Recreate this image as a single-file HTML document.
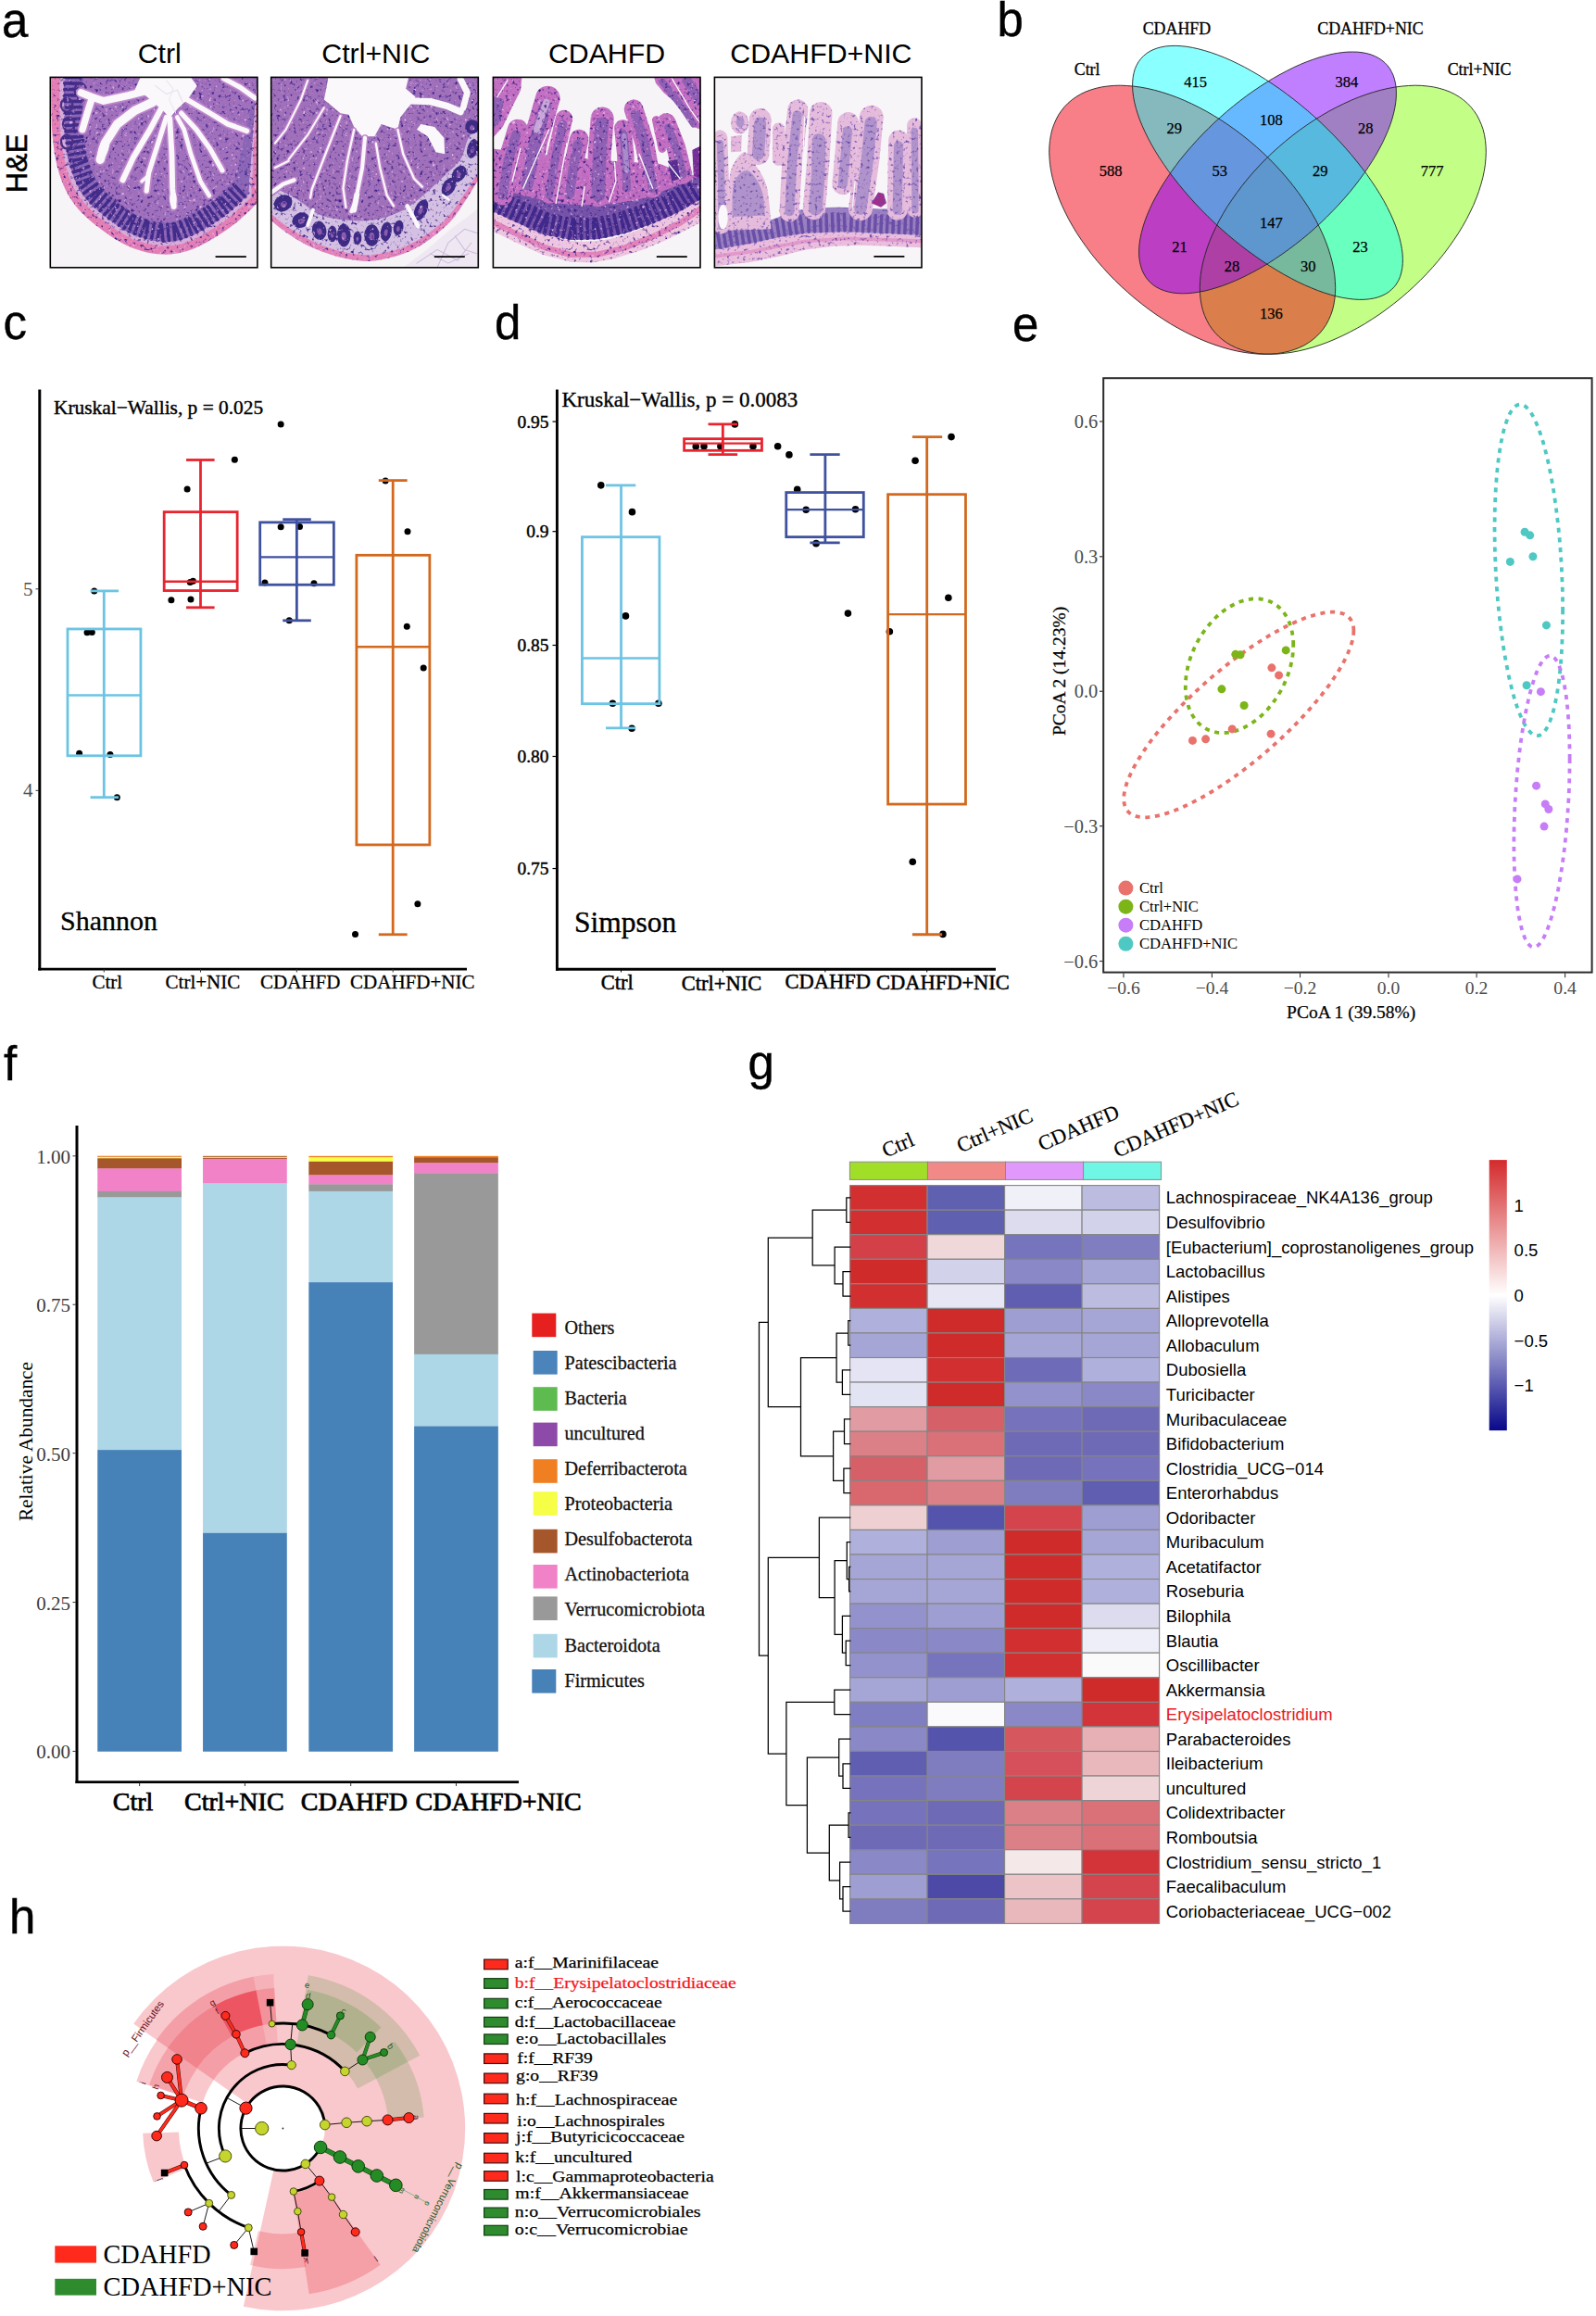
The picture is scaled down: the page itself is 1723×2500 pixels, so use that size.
<!DOCTYPE html>
<html lang="en"><head><meta charset="utf-8"><title>Figure</title>
<style>html,body{margin:0;padding:0;background:#fff}svg{display:block}text{font-family:"Liberation Serif",serif}text.sa{font-family:"Liberation Sans",sans-serif}</style></head>
<body>
<svg width="1723" height="2500" viewBox="0 0 1723 2500">
<rect width="1723" height="2500" fill="#fff"/>
<g id='pa'>
<text x="2.00" y="39.60" font-size="51" fill="#000" class="sa" stroke="#000" stroke-width="0.4">a</text>
<text x="172.30" y="68.30" font-size="30.3" fill="#000" class="sa" text-anchor="middle">Ctrl</text>
<text x="405.80" y="68.30" font-size="30.3" fill="#000" class="sa" text-anchor="middle">Ctrl+NIC</text>
<text x="655.00" y="68.30" font-size="30.3" fill="#000" class="sa" text-anchor="middle">CDAHFD</text>
<text x="886.40" y="68.30" font-size="30.3" fill="#000" class="sa" text-anchor="middle">CDAHFD+NIC</text>
<text x="29.00" y="176.50" font-size="30.9" fill="#000" class="sa" text-anchor="middle" transform="rotate(-90.00 29.00 176.50)" stroke="#000" stroke-width="0.5">H&amp;E</text>
<defs><clipPath id="clA"><rect x="28" y="38" width="1524" height="1395"/></clipPath><filter id="spk" filterUnits="userSpaceOnUse" x="0" y="0" width="1600" height="1500" color-interpolation-filters="sRGB"><feTurbulence type="fractalNoise" baseFrequency="0.042" numOctaves="2" seed="7" result="n"/><feColorMatrix in="n" type="matrix" values="0 0 0 0 0.24  0 0 0 0 0.13  0 0 0 0 0.54  4.5 0 0 0 -2.58" result="d"/><feComposite in="d" in2="SourceGraphic" operator="in" result="dd"/><feColorMatrix in="n" type="matrix" values="0 0 0 0 0.90  0 0 0 0 0.72  0 0 0 0 0.92  0 -5 0 0 1.75" result="l"/><feComposite in="l" in2="SourceGraphic" operator="in" result="ll"/><feMerge><feMergeNode in="SourceGraphic"/><feMergeNode in="dd"/><feMergeNode in="ll"/></feMerge></filter><filter id="spk2" filterUnits="userSpaceOnUse" x="0" y="0" width="1600" height="1500" color-interpolation-filters="sRGB"><feTurbulence type="fractalNoise" baseFrequency="0.042" numOctaves="2" seed="11" result="n"/><feColorMatrix in="n" type="matrix" values="0 0 0 0 0.42  0 0 0 0 0.30  0 0 0 0 0.68  4 0 0 0 -2.3" result="d"/><feComposite in="d" in2="SourceGraphic" operator="in" result="dd"/><feMerge><feMergeNode in="SourceGraphic"/><feMergeNode in="dd"/></feMerge></filter></defs>
<g transform="translate(50,78) scale(0.147243)">
<g clip-path="url(#clA)">
<rect x="28" y="38" width="1518" height="1395" fill="#F6F4F6"/>
<g filter="url(#spk)">
<path d="M35,38 C36,82 36,223 38,300 C40,377 41,433 48,500 C55,567 65,637 82,700 C99,763 122,827 150,880 C178,933 208,975 250,1020 C292,1065 350,1112 400,1150 C450,1188 500,1223 550,1250 C600,1277 650,1296 700,1310 C750,1324 800,1333 850,1335 C900,1337 950,1332 1000,1320 C1050,1308 1100,1285 1150,1260 C1200,1235 1255,1200 1300,1170 C1345,1140 1379,1115 1420,1080 C1461,1045 1525,980 1546,960 L1546,38Z" fill="#E47FB6" />
<path d="M97,38 C98,81 98,222 100,298 C102,374 103,429 110,493 C117,557 126,624 142,684 C158,744 180,802 205,851 C230,900 256,936 295,978 C334,1020 391,1065 438,1101 C485,1137 532,1170 579,1195 C626,1220 672,1237 717,1250 C762,1263 807,1271 852,1273 C897,1275 940,1271 985,1260 C1030,1249 1075,1229 1122,1205 C1169,1181 1223,1147 1266,1118 C1309,1089 1340,1067 1380,1033 C1420,999 1482,935 1503,915 L1546,38Z" fill="#D6ACD8" />
<path d="M127,38 C128,81 128,222 130,297 C132,372 132,427 139,490 C146,553 156,618 171,676 C186,734 206,790 231,837 C256,884 280,917 318,957 C356,997 410,1042 456,1077 C502,1112 548,1145 593,1169 C638,1193 682,1209 725,1221 C768,1233 811,1241 853,1243 C895,1245 935,1242 978,1231 C1021,1220 1064,1201 1109,1178 C1154,1155 1207,1121 1249,1093 C1291,1065 1321,1043 1360,1010 C1399,977 1462,912 1483,893 L1546,38Z" fill="#8C66B6" />
<path d="M270,38 C270,80 271,220 273,293 C275,366 276,416 282,474 C288,532 296,590 309,639 C322,688 339,734 358,771 C377,808 391,828 422,860 C453,892 503,934 543,964 C583,994 624,1023 661,1043 C698,1063 731,1074 764,1084 C797,1094 828,1099 858,1100 C888,1101 912,1100 943,1092 C974,1084 1007,1070 1045,1050 C1083,1030 1133,999 1170,974 C1207,949 1231,932 1267,901 C1303,870 1364,808 1384,790 L1546,38Z" fill="#A070BC" />
<path d="M133,38L252,37M134,82L253,81M134,126L253,125M135,170L254,169M135,214L254,213M136,258L255,257M136,302L255,296M138,346L257,340M140,390L259,384M142,434L261,428M144,478L263,472M150,520L268,500M158,564L275,543M165,607L282,587M173,650L290,630M183,692L295,650M199,733L310,691M214,774L326,733M229,815L341,774M249,852L346,782M275,888L372,818M301,924L397,854M327,957L405,867M360,986L439,896M394,1015L472,925M427,1044L505,954M459,1072L526,973M496,1097L562,998M533,1121L599,1022M569,1146L635,1047M606,1167L649,1057M646,1184L690,1073M687,1200L731,1089M727,1215L747,1098M771,1223L791,1105M814,1230L834,1113M856,1237L844,1118M900,1233L888,1114M943,1228L932,1110M985,1222L940,1111M1026,1205L981,1095M1066,1189L1022,1078M1106,1173L1045,1071M1144,1150L1082,1048M1182,1127L1120,1025M1219,1104L1157,1002M1256,1081L1184,985M1291,1054L1220,959M1326,1028L1255,933M1360,1001L1278,915M1392,971L1310,885M1424,941L1342,855M1456,910L1374,824" fill="none" stroke="#432D8A" stroke-width="24" stroke-linecap="round"/>
<ellipse cx="150" cy="240" rx="42" ry="50" fill="none" stroke="#4A2F86" stroke-width="16"/>
<ellipse cx="165" cy="380" rx="42" ry="50" fill="none" stroke="#4A2F86" stroke-width="16"/>
<ellipse cx="150" cy="510" rx="42" ry="50" fill="none" stroke="#4A2F86" stroke-width="16"/>
<ellipse cx="250" cy="130" rx="42" ry="50" fill="none" stroke="#4A2F86" stroke-width="16"/>
</g>
<path d="M760,130 L600,170 L420,210 L330,180 L255,150" fill="none" stroke="#BE86CC" stroke-width="78" stroke-linecap="round" stroke-linejoin="round" />
<path d="M335,190 L300,300 L265,420" fill="none" stroke="#BE86CC" stroke-width="74" stroke-linecap="round" stroke-linejoin="round" />
<path d="M780,220 L650,280 L520,380 L430,520 L395,640" fill="none" stroke="#BE86CC" stroke-width="88" stroke-linecap="round" stroke-linejoin="round" />
<path d="M840,270 L760,420 L640,620 L560,790" fill="none" stroke="#BE86CC" stroke-width="66" stroke-linecap="round" stroke-linejoin="round" />
<path d="M880,330 L820,520 L750,740 L735,870" fill="none" stroke="#BE86CC" stroke-width="60" stroke-linecap="round" stroke-linejoin="round" />
<path d="M745,760 L700,800" fill="none" stroke="#BE86CC" stroke-width="48" stroke-linecap="round" stroke-linejoin="round" />
<path d="M905,340 L920,600 L925,850 L935,985" fill="none" stroke="#BE86CC" stroke-width="64" stroke-linecap="round" stroke-linejoin="round" />
<path d="M960,330 L1010,420 L1060,600 L1130,800 L1195,905" fill="none" stroke="#BE86CC" stroke-width="56" stroke-linecap="round" stroke-linejoin="round" />
<path d="M990,300 L1100,420 L1200,560 L1290,720" fill="none" stroke="#BE86CC" stroke-width="60" stroke-linecap="round" stroke-linejoin="round" />
<path d="M1030,200 L1200,300 L1330,380 L1470,430" fill="none" stroke="#BE86CC" stroke-width="62" stroke-linecap="round" stroke-linejoin="round" />
<path d="M1300,45 L1420,110 L1530,190" fill="none" stroke="#BE86CC" stroke-width="60" stroke-linecap="round" stroke-linejoin="round" />
<path d="M690,38 L1060,38 L1105,100 L1035,200 L965,265 L905,335 L860,285 L800,235 L720,165 L640,150Z" fill="#FAF8FA" />
<path d="M760,130 L600,170 L420,210 L330,180 L255,150" fill="none" stroke="#FAF8FA" stroke-width="54" stroke-linecap="round" stroke-linejoin="round" />
<path d="M335,190 L300,300 L265,420" fill="none" stroke="#FAF8FA" stroke-width="50" stroke-linecap="round" stroke-linejoin="round" />
<path d="M780,220 L650,280 L520,380 L430,520 L395,640" fill="none" stroke="#FAF8FA" stroke-width="64" stroke-linecap="round" stroke-linejoin="round" />
<path d="M840,270 L760,420 L640,620 L560,790" fill="none" stroke="#FAF8FA" stroke-width="42" stroke-linecap="round" stroke-linejoin="round" />
<path d="M880,330 L820,520 L750,740 L735,870" fill="none" stroke="#FAF8FA" stroke-width="36" stroke-linecap="round" stroke-linejoin="round" />
<path d="M745,760 L700,800" fill="none" stroke="#FAF8FA" stroke-width="24" stroke-linecap="round" stroke-linejoin="round" />
<path d="M905,340 L920,600 L925,850 L935,985" fill="none" stroke="#FAF8FA" stroke-width="40" stroke-linecap="round" stroke-linejoin="round" />
<path d="M960,330 L1010,420 L1060,600 L1130,800 L1195,905" fill="none" stroke="#FAF8FA" stroke-width="32" stroke-linecap="round" stroke-linejoin="round" />
<path d="M990,300 L1100,420 L1200,560 L1290,720" fill="none" stroke="#FAF8FA" stroke-width="36" stroke-linecap="round" stroke-linejoin="round" />
<path d="M1030,200 L1200,300 L1330,380 L1470,430" fill="none" stroke="#FAF8FA" stroke-width="38" stroke-linecap="round" stroke-linejoin="round" />
<path d="M1300,45 L1420,110 L1530,190" fill="none" stroke="#FAF8FA" stroke-width="36" stroke-linecap="round" stroke-linejoin="round" />
<ellipse cx="420" cy="560" rx="36" ry="90" transform="rotate(18 420 560)" fill="#FAF8FA"/>
<ellipse cx="930" cy="930" rx="26" ry="60" fill="#FAF8FA"/>
<path d="M800,100 L880,160 L960,130 L1000,220" fill="none" stroke="#E9E3F0" stroke-width="9" stroke-linecap="round" stroke-linejoin="round" />
<path d="M880,60 L930,120 L900,200 L950,300" fill="none" stroke="#EBE6F2" stroke-width="7" stroke-linecap="round" stroke-linejoin="round" />
</g>
<path d="M1240,1352H1466" stroke="#000" stroke-width="12"/>
</g>
<g transform="translate(288,78) scale(0.147243)">
<g clip-path="url(#clA)">
<rect x="28" y="38" width="1525" height="1395" fill="#F6F4F6"/>
<path d="M1000,1432 L1150,1320 L1350,1150 L1550,1000 L1550,1432Z" fill="#EFE8F2" />
<path d="M1100,1400 L1250,1300 L1400,1380 L1500,1250" fill="none" stroke="#CDBBDD" stroke-width="7" stroke-linecap="round" stroke-linejoin="round" />
<path d="M1250,1432 L1330,1250 L1450,1150 L1545,1180" fill="none" stroke="#CDBBDD" stroke-width="7" stroke-linecap="round" stroke-linejoin="round" />
<path d="M1200,1330 L1330,1400 L1480,1330" fill="none" stroke="#CDBBDD" stroke-width="7" stroke-linecap="round" stroke-linejoin="round" />
<path d="M1380,1200 L1450,1300 L1540,1330" fill="none" stroke="#CDBBDD" stroke-width="7" stroke-linecap="round" stroke-linejoin="round" />
<g filter="url(#spk)">
<path d="M28,1085 C48,1101 105,1149 150,1180 C195,1211 250,1245 300,1270 C350,1295 400,1313 450,1330 C500,1347 550,1361 600,1370 C650,1379 700,1387 750,1385 C800,1383 850,1372 900,1360 C950,1348 1000,1333 1050,1310 C1100,1287 1150,1257 1200,1220 C1250,1183 1308,1135 1350,1090 C1392,1045 1416,1000 1450,950 C1484,900 1535,817 1552,790 L1552,38 L28,38Z" fill="#E483BA" />
<path d="M28,1035 C48,1051 105,1099 150,1130 C195,1161 250,1194 300,1220 C350,1246 400,1268 450,1285 C500,1302 550,1316 600,1325 C650,1334 700,1342 750,1340 C800,1338 850,1328 900,1315 C950,1302 1000,1284 1050,1260 C1100,1236 1152,1206 1200,1170 C1248,1134 1300,1089 1340,1045 C1380,1001 1405,957 1440,905 C1475,853 1533,763 1552,735 L1552,38 L28,38Z" fill="#D3C0E2" />
<path d="M28,850 C45,855 93,863 130,880 C167,897 205,922 250,950 C295,978 342,1028 400,1050 C458,1072 533,1080 600,1085 C667,1090 733,1092 800,1080 C867,1068 942,1040 1000,1010 C1058,980 1100,942 1150,900 C1200,858 1255,803 1300,760 C1345,717 1390,687 1420,640 C1450,593 1458,517 1480,480 C1502,443 1540,430 1552,420 L1552,38 L28,38Z" fill="#A070BA" />
<path d="M540,320 L430,600 L330,860 L320,920" fill="none" stroke="#A970C0" stroke-width="40" stroke-linecap="round" stroke-linejoin="round" />
<path d="M640,420 L590,650 L560,850 L580,990" fill="none" stroke="#A970C0" stroke-width="40" stroke-linecap="round" stroke-linejoin="round" />
<path d="M720,480 L700,700 L650,950 L620,1020" fill="none" stroke="#A970C0" stroke-width="52" stroke-linecap="round" stroke-linejoin="round" />
<path d="M800,520 L830,700 L880,900 L930,980" fill="none" stroke="#A970C0" stroke-width="40" stroke-linecap="round" stroke-linejoin="round" />
<path d="M960,420 L1000,600 L1080,780 L1140,840" fill="none" stroke="#A970C0" stroke-width="40" stroke-linecap="round" stroke-linejoin="round" />
<path d="M35,880 L120,820 L200,790" fill="none" stroke="#A970C0" stroke-width="54" stroke-linecap="round" stroke-linejoin="round" />
<path d="M60,700 L160,650" fill="none" stroke="#A970C0" stroke-width="40" stroke-linecap="round" stroke-linejoin="round" />
<path d="M300,60 L250,200 L140,420 L60,520" fill="none" stroke="#A970C0" stroke-width="38" stroke-linecap="round" stroke-linejoin="round" />
<path d="M420,260 L300,460 L160,640" fill="none" stroke="#A970C0" stroke-width="38" stroke-linecap="round" stroke-linejoin="round" />
<ellipse cx="120" cy="960" rx="70" ry="58" transform="rotate(-30 120 960)" fill="#3D2B84"/>
<ellipse cx="120" cy="968" rx="24" ry="20" transform="rotate(-30 120 960)" fill="#8A5AAE"/>
<ellipse cx="250" cy="1085" rx="66" ry="54" transform="rotate(-25 250 1085)" fill="#3D2B84"/>
<ellipse cx="250" cy="1093" rx="23" ry="19" transform="rotate(-25 250 1085)" fill="#8A5AAE"/>
<ellipse cx="385" cy="1160" rx="52" ry="70" transform="rotate(-10 385 1160)" fill="#3D2B84"/>
<ellipse cx="385" cy="1168" rx="18" ry="24" transform="rotate(-10 385 1160)" fill="#8A5AAE"/>
<ellipse cx="480" cy="1185" rx="34" ry="60" transform="rotate(0 480 1185)" fill="#3D2B84"/>
<ellipse cx="480" cy="1193" rx="12" ry="21" transform="rotate(0 480 1185)" fill="#8A5AAE"/>
<ellipse cx="565" cy="1195" rx="50" ry="85" transform="rotate(0 565 1195)" fill="#3D2B84"/>
<ellipse cx="565" cy="1203" rx="18" ry="30" transform="rotate(0 565 1195)" fill="#8A5AAE"/>
<ellipse cx="665" cy="1215" rx="30" ry="50" transform="rotate(0 665 1215)" fill="#3D2B84"/>
<ellipse cx="665" cy="1223" rx="10" ry="18" transform="rotate(0 665 1215)" fill="#8A5AAE"/>
<ellipse cx="770" cy="1195" rx="55" ry="80" transform="rotate(0 770 1195)" fill="#3D2B84"/>
<ellipse cx="770" cy="1203" rx="19" ry="28" transform="rotate(0 770 1195)" fill="#8A5AAE"/>
<ellipse cx="875" cy="1168" rx="40" ry="72" transform="rotate(8 875 1168)" fill="#3D2B84"/>
<ellipse cx="875" cy="1176" rx="14" ry="25" transform="rotate(8 875 1168)" fill="#8A5AAE"/>
<ellipse cx="965" cy="1140" rx="36" ry="56" transform="rotate(12 965 1140)" fill="#3D2B84"/>
<ellipse cx="965" cy="1148" rx="13" ry="20" transform="rotate(12 965 1140)" fill="#8A5AAE"/>
<ellipse cx="1130" cy="1010" rx="45" ry="82" transform="rotate(25 1130 1010)" fill="#3D2B84"/>
<ellipse cx="1130" cy="1018" rx="16" ry="29" transform="rotate(25 1130 1010)" fill="#8A5AAE"/>
<ellipse cx="1335" cy="840" rx="46" ry="72" transform="rotate(30 1335 840)" fill="#3D2B84"/>
<ellipse cx="1335" cy="848" rx="16" ry="25" transform="rotate(30 1335 840)" fill="#8A5AAE"/>
<ellipse cx="1410" cy="745" rx="46" ry="66" transform="rotate(35 1410 745)" fill="#3D2B84"/>
<ellipse cx="1410" cy="753" rx="16" ry="23" transform="rotate(35 1410 745)" fill="#8A5AAE"/>
<ellipse cx="1510" cy="560" rx="40" ry="72" transform="rotate(15 1510 560)" fill="#3D2B84"/>
<ellipse cx="1510" cy="568" rx="14" ry="25" transform="rotate(15 1510 560)" fill="#8A5AAE"/>
<ellipse cx="1505" cy="400" rx="50" ry="52" transform="rotate(0 1505 400)" fill="#3D2B84"/>
<ellipse cx="1505" cy="408" rx="18" ry="18" transform="rotate(0 1505 400)" fill="#8A5AAE"/>
</g>
<path d="M450,38 L1040,38 L1020,120 L1090,180 L1060,230 L980,330 L960,420 L900,400 L840,380 L790,470 L700,470 L640,400 L600,310 L540,300 L480,250 L420,200 L440,100Z" fill="#FAF8FA" />
<path d="M1050,210 L1200,215 L1330,250 L1420,290" fill="none" stroke="#FAF8FA" stroke-width="50" stroke-linecap="round" stroke-linejoin="round" />
<path d="M1440,260 L1470,150 L1420,50" fill="none" stroke="#FAF8FA" stroke-width="46" stroke-linecap="round" stroke-linejoin="round" />
<path d="M1130,380 L1230,400 L1300,480 L1305,600 L1240,585 L1180,470 L1100,420Z" fill="#FAF8FA" />
<path d="M540,320 L430,600 L330,860 L320,920" fill="none" stroke="#BC84CA" stroke-width="34" stroke-linecap="round" stroke-linejoin="round" />
<path d="M640,420 L590,650 L560,850 L580,990" fill="none" stroke="#BC84CA" stroke-width="34" stroke-linecap="round" stroke-linejoin="round" />
<path d="M720,480 L700,700 L650,950 L620,1020" fill="none" stroke="#BC84CA" stroke-width="46" stroke-linecap="round" stroke-linejoin="round" />
<path d="M800,520 L830,700 L880,900 L930,980" fill="none" stroke="#BC84CA" stroke-width="34" stroke-linecap="round" stroke-linejoin="round" />
<path d="M960,420 L1000,600 L1080,780 L1140,840" fill="none" stroke="#BC84CA" stroke-width="34" stroke-linecap="round" stroke-linejoin="round" />
<path d="M35,880 L120,820 L200,790" fill="none" stroke="#BC84CA" stroke-width="48" stroke-linecap="round" stroke-linejoin="round" />
<path d="M60,700 L160,650" fill="none" stroke="#BC84CA" stroke-width="34" stroke-linecap="round" stroke-linejoin="round" />
<path d="M300,60 L250,200 L140,420 L60,520" fill="none" stroke="#BC84CA" stroke-width="32" stroke-linecap="round" stroke-linejoin="round" />
<path d="M420,260 L300,460 L160,640" fill="none" stroke="#BC84CA" stroke-width="32" stroke-linecap="round" stroke-linejoin="round" />
<path d="M540,320 L430,600 L330,860 L320,920" fill="none" stroke="#FAF8FA" stroke-width="16" stroke-linecap="round" stroke-linejoin="round" />
<path d="M640,420 L590,650 L560,850 L580,990" fill="none" stroke="#FAF8FA" stroke-width="16" stroke-linecap="round" stroke-linejoin="round" />
<path d="M720,480 L700,700 L650,950 L620,1020" fill="none" stroke="#FAF8FA" stroke-width="28" stroke-linecap="round" stroke-linejoin="round" />
<path d="M800,520 L830,700 L880,900 L930,980" fill="none" stroke="#FAF8FA" stroke-width="16" stroke-linecap="round" stroke-linejoin="round" />
<path d="M960,420 L1000,600 L1080,780 L1140,840" fill="none" stroke="#FAF8FA" stroke-width="16" stroke-linecap="round" stroke-linejoin="round" />
<path d="M35,880 L120,820 L200,790" fill="none" stroke="#FAF8FA" stroke-width="30" stroke-linecap="round" stroke-linejoin="round" />
<path d="M60,700 L160,650" fill="none" stroke="#FAF8FA" stroke-width="16" stroke-linecap="round" stroke-linejoin="round" />
<path d="M300,60 L250,200 L140,420 L60,520" fill="none" stroke="#FAF8FA" stroke-width="14" stroke-linecap="round" stroke-linejoin="round" />
<path d="M420,260 L300,460 L160,640" fill="none" stroke="#FAF8FA" stroke-width="14" stroke-linecap="round" stroke-linejoin="round" />
<path d="M340,1010 L300,1120" fill="none" stroke="#FAF8FA" stroke-width="26" stroke-linecap="round" stroke-linejoin="round" />
<path d="M1030,980 L1110,1130" fill="none" stroke="#FAF8FA" stroke-width="30" stroke-linecap="round" stroke-linejoin="round" />
<path d="M1290,900 L1335,935" fill="none" stroke="#FAF8FA" stroke-width="16" stroke-linecap="round" stroke-linejoin="round" />
<path d="M660,900 L640,1010" fill="none" stroke="#FAF8FA" stroke-width="40" stroke-linecap="round" stroke-linejoin="round" />
</g>
<path d="M1228,1352H1452" stroke="#000" stroke-width="12"/>
</g>
<g transform="translate(528,78) scale(0.147243)">
<g clip-path="url(#clA)">
<rect x="28" y="38" width="1525" height="1395" fill="#F6F4F6"/>
<g filter="url(#spk)">
<path d="M28,1000 C57,1014 138,1055 200,1085 C262,1115 333,1155 400,1180 C467,1205 533,1226 600,1235 C667,1244 733,1242 800,1235 C867,1228 933,1211 1000,1190 C1067,1169 1133,1139 1200,1110 C1267,1081 1341,1048 1400,1015 C1459,982 1527,932 1552,915 L1552,1100 L1300,1230 L1100,1310 L900,1370 L750,1395 L600,1390 L400,1340 L200,1250 L28,1165Z" fill="#EFC6E0" />
<path d="M28,1100 L200,1185 L400,1282 L600,1338 L800,1335 L1000,1285 L1200,1205 L1400,1105 L1552,1000" fill="none" stroke="#E283BC" stroke-width="42" stroke-linecap="round" stroke-linejoin="round" />
<path d="M28,560 L300,600 L600,620 L900,650 L1250,670 L1450,750 L1552,760 L1552,900 L1300,960 L1000,1010 L600,1030 L300,980 L28,920Z" fill="#C06CC0" />
<path d="M28,850 C65,858 171,882 250,900 C329,918 408,948 500,960 C592,972 700,975 800,970 C900,965 1017,948 1100,930 C1183,912 1225,888 1300,860 C1375,832 1510,777 1552,760 L1552,930 L1400,1020 L1200,1110 L1000,1180 L800,1225 L600,1230 L400,1190 L200,1100 L28,1020Z" fill="#7653A8" />
<path d="M32,1011L91,884M74,1030L133,903M116,1050L175,923M157,1069L216,942M199,1089L258,962M241,1107L298,980M283,1126L340,999M325,1145L382,1018M367,1164L424,1036M407,1181L434,1044M452,1190L479,1053M497,1199L525,1062M542,1208L570,1071M587,1217L615,1080M631,1219L627,1079M677,1218L673,1078M723,1217L719,1077M769,1216L765,1076M812,1212L782,1075M857,1202L827,1065M902,1192L871,1055M947,1182L916,1045M992,1172L961,1035M1034,1157L988,1025M1078,1142L1032,1010M1121,1127L1075,995M1165,1112L1118,980M1207,1096L1149,968M1249,1077L1191,949M1291,1058L1233,931M1333,1039L1275,912M1375,1020L1317,893M1414,1000L1343,879M1454,976L1383,856M1494,953L1422,832M1533,929L1462,809" fill="none" stroke="#40298A" stroke-width="26" stroke-linecap="round"/>
<path d="M28,38 L240,38 L232,130 L172,250 L100,400 L28,480Z" fill="#C470C2" />
<path d="M28,180 L110,200 L80,360 L28,420Z" fill="#9060B4" />
<path d="M1210,38 L1552,38 L1552,420 L1500,400 L1400,250 L1280,150 L1222,80Z" fill="#C470C2" />
<path d="M1270,70 L1420,260 L1500,380" fill="none" stroke="#9060B4" stroke-width="50" stroke-linecap="round" stroke-linejoin="round" />
<path d="M1450,60 L1540,200" fill="none" stroke="#9060B4" stroke-width="70" stroke-linecap="round" stroke-linejoin="round" />
<path d="M100,900 L140,650 L210,420" fill="none" stroke="#C470C2" stroke-width="150" stroke-linecap="round" stroke-linejoin="round" />
<path d="M100,900 L140,650 L198,458" fill="none" stroke="#9060B4" stroke-width="70" stroke-linecap="round" stroke-linejoin="round" />
<path d="M280,820 L340,500 L430,190" fill="none" stroke="#C470C2" stroke-width="180" stroke-linecap="round" stroke-linejoin="round" />
<path d="M280,820 L340,500 L413,248" fill="none" stroke="#9060B4" stroke-width="90" stroke-linecap="round" stroke-linejoin="round" />
<path d="M440,900 L490,600 L550,340" fill="none" stroke="#C470C2" stroke-width="125" stroke-linecap="round" stroke-linejoin="round" />
<path d="M440,900 L490,600 L541,379" fill="none" stroke="#9060B4" stroke-width="60" stroke-linecap="round" stroke-linejoin="round" />
<path d="M590,900 L620,680 L660,490" fill="none" stroke="#C470C2" stroke-width="140" stroke-linecap="round" stroke-linejoin="round" />
<path d="M590,900 L620,680 L652,529" fill="none" stroke="#9060B4" stroke-width="70" stroke-linecap="round" stroke-linejoin="round" />
<path d="M800,900 L810,600 L830,340" fill="none" stroke="#C470C2" stroke-width="170" stroke-linecap="round" stroke-linejoin="round" />
<path d="M800,900 L810,600 L827,380" fill="none" stroke="#9060B4" stroke-width="100" stroke-linecap="round" stroke-linejoin="round" />
<path d="M1010,850 L1000,600 L980,410" fill="none" stroke="#C470C2" stroke-width="125" stroke-linecap="round" stroke-linejoin="round" />
<path d="M1010,850 L1000,600 L984,450" fill="none" stroke="#9060B4" stroke-width="60" stroke-linecap="round" stroke-linejoin="round" />
<path d="M1200,850 L1140,520 L1060,270" fill="none" stroke="#C470C2" stroke-width="140" stroke-linecap="round" stroke-linejoin="round" />
<path d="M1200,850 L1140,520 L1072,308" fill="none" stroke="#9060B4" stroke-width="70" stroke-linecap="round" stroke-linejoin="round" />
<path d="M1270,560 L1225,350" fill="none" stroke="#C56CC0" stroke-width="60" stroke-linecap="round" stroke-linejoin="round" />
<path d="M1420,750 L1370,550 L1300,370" fill="none" stroke="#C470C2" stroke-width="140" stroke-linecap="round" stroke-linejoin="round" />
<path d="M1420,750 L1370,550 L1314,407" fill="none" stroke="#9060B4" stroke-width="60" stroke-linecap="round" stroke-linejoin="round" />
<path d="M1490,570 L1552,540 L1552,780 L1500,760Z" fill="#7A2F98" />
<path d="M1310,650 L1380,640 L1400,780 L1340,800Z" fill="#5A2E90" />
<path d="M350,420 L420,220" fill="none" stroke="#C9A6D8" stroke-width="50" stroke-linecap="round" stroke-linejoin="round" />
<path d="M1010,720 L990,470" fill="none" stroke="#A98ACB" stroke-width="36" stroke-linecap="round" stroke-linejoin="round" />
</g>
<path d="M230,560 L170,800" fill="none" stroke="#FAF8FA" stroke-width="9" stroke-linecap="round" stroke-linejoin="round" />
<path d="M440,420 L350,620 L250,850" fill="none" stroke="#FAF8FA" stroke-width="9" stroke-linecap="round" stroke-linejoin="round" />
<path d="M570,520 L490,960" fill="none" stroke="#FAF8FA" stroke-width="9" stroke-linecap="round" stroke-linejoin="round" />
<path d="M700,840 L680,980" fill="none" stroke="#FAF8FA" stroke-width="9" stroke-linecap="round" stroke-linejoin="round" />
<path d="M920,660 L930,800 L880,950" fill="none" stroke="#FAF8FA" stroke-width="9" stroke-linecap="round" stroke-linejoin="round" />
<path d="M1100,600 L1200,850" fill="none" stroke="#FAF8FA" stroke-width="9" stroke-linecap="round" stroke-linejoin="round" />
<path d="M1290,640 L1400,780" fill="none" stroke="#FAF8FA" stroke-width="9" stroke-linecap="round" stroke-linejoin="round" />
<path d="M135,60 L60,180" fill="none" stroke="#FAF8FA" stroke-width="9" stroke-linecap="round" stroke-linejoin="round" />
<path d="M1340,45 L1480,280 L1552,380" fill="none" stroke="#FAF8FA" stroke-width="9" stroke-linecap="round" stroke-linejoin="round" />
</g>
<path d="M1228,1352H1452" stroke="#000" stroke-width="12"/>
</g>
<g transform="translate(767,78) scale(0.147243)">
<g clip-path="url(#clA)">
<rect x="28" y="38" width="1525" height="1395" fill="#F7F5F7"/>
<g filter="url(#spk2)">
<path d="M28,1290 C73,1283 221,1263 300,1250 C379,1237 433,1222 500,1210 C567,1198 617,1187 700,1180 C783,1173 900,1169 1000,1170 C1100,1171 1209,1181 1300,1185 C1391,1189 1505,1193 1546,1195 L1546,1285 L1300,1275 L1100,1268 L900,1275 L700,1300 L500,1350 L300,1390 L28,1422Z" fill="#EBBEDD" />
<path d="M28,1350 L300,1315 L500,1275 L700,1238 L1000,1218 L1300,1228 L1546,1238" fill="none" stroke="#E39ACB" stroke-width="26" stroke-linecap="round" stroke-linejoin="round" />
<path d="M28,1130 C57,1128 130,1128 200,1120 C270,1112 383,1097 450,1080 C517,1063 525,1035 600,1020 C675,1005 800,993 900,990 C1000,987 1092,997 1200,1000 C1308,1003 1488,1008 1546,1010 L1546,1195 L1000,1170 L700,1180 L500,1210 L300,1255 L28,1300Z" fill="#9A80C2" />
<path d="M26,1290L7,1172M70,1283L50,1165M113,1276L94,1157M157,1269L137,1150M200,1261L180,1143M243,1254L224,1136M287,1247L267,1129M329,1238L303,1121M372,1228L346,1111M415,1219L389,1102M458,1209L432,1092M502,1200L484,1081M545,1193L527,1074M589,1187L571,1068M632,1180L615,1061M676,1174L658,1055M721,1169L717,1049M765,1168L761,1048M809,1166L805,1046M853,1165L849,1045M897,1163L893,1044M941,1162L937,1042M985,1161L981,1041M1029,1161L1035,1041M1073,1163L1079,1043M1117,1165L1123,1045M1161,1167L1167,1047M1205,1169L1211,1050M1249,1171L1255,1052M1293,1173L1299,1054M1337,1175L1342,1056M1381,1177L1386,1058M1425,1179L1430,1060M1469,1181L1474,1062M1513,1183L1518,1064" fill="none" stroke="#6A4FA6" stroke-width="24" stroke-linecap="round"/>
<path d="M80,1130 L80,800 L70,480" fill="none" stroke="#E6BCDD" stroke-width="110" stroke-linecap="round" stroke-linejoin="round" />
<path d="M80,1130 L80,800 L71,520" fill="none" stroke="#B193CC" stroke-width="50" stroke-linecap="round" stroke-linejoin="round" />
<ellipse cx="215" cy="370" rx="66" ry="82" fill="#E6BCDD"/>
<ellipse cx="218" cy="365" rx="30" ry="42" fill="#B193CC"/>
<path d="M150,470 L230,460 L225,580 L150,585Z" fill="#E6B9DC" />
<path d="M350,600 L360,450 L365,345" fill="none" stroke="#E6BCDD" stroke-width="160" stroke-linecap="round" stroke-linejoin="round" />
<path d="M350,600 L360,450 L364,375" fill="none" stroke="#B193CC" stroke-width="90" stroke-linecap="round" stroke-linejoin="round" />
<path d="M500,640 L500,415" fill="none" stroke="#E6BBDD" stroke-width="90" stroke-linecap="round" stroke-linejoin="round" />
<path d="M130,1160 C131,1108 130,928 135,850 C140,772 141,734 160,690 C179,646 222,587 250,585 C278,583 305,644 330,680 C355,716 383,755 400,800 C417,845 422,892 430,950 C438,1008 442,1117 445,1150Z" fill="#E6BCDD" />
<path d="M160,1060 C161,1027 158,910 165,860 C172,810 182,783 200,760 C218,737 247,715 270,720 C293,725 321,760 340,790 C359,820 375,857 385,900 C395,943 398,1025 400,1050Z" fill="#B193CC" />
<path d="M580,1020 L600,650 L640,275" fill="none" stroke="#E6BCDD" stroke-width="150" stroke-linecap="round" stroke-linejoin="round" />
<path d="M580,1020 L600,650 L636,315" fill="none" stroke="#B193CC" stroke-width="70" stroke-linecap="round" stroke-linejoin="round" />
<path d="M760,1000 L790,650 L810,300" fill="none" stroke="#E6BCDD" stroke-width="165" stroke-linecap="round" stroke-linejoin="round" />
<path d="M770,1000 L790,750 L795,500" fill="none" stroke="#B193CC" stroke-width="100" stroke-linecap="round" stroke-linejoin="round" />
<path d="M970,820 L990,600 L1010,370" fill="none" stroke="#E6BCDD" stroke-width="155" stroke-linecap="round" stroke-linejoin="round" />
<path d="M970,820 L990,600 L1005,430" fill="none" stroke="#B193CC" stroke-width="70" stroke-linecap="round" stroke-linejoin="round" />
<path d="M1100,1000 L1150,650 L1180,330" fill="none" stroke="#E6BCDD" stroke-width="175" stroke-linecap="round" stroke-linejoin="round" />
<path d="M1100,1000 L1150,650 L1176,370" fill="none" stroke="#B193CC" stroke-width="90" stroke-linecap="round" stroke-linejoin="round" />
<path d="M1370,1010 L1375,750 L1380,500" fill="none" stroke="#E6BCDD" stroke-width="150" stroke-linecap="round" stroke-linejoin="round" />
<path d="M1370,1010 L1375,750 L1379,540" fill="none" stroke="#B193CC" stroke-width="70" stroke-linecap="round" stroke-linejoin="round" />
<path d="M1500,1010 L1500,700 L1495,390" fill="none" stroke="#E6BCDD" stroke-width="110" stroke-linecap="round" stroke-linejoin="round" />
<path d="M1500,1010 L1500,700 L1496,430" fill="none" stroke="#B193CC" stroke-width="50" stroke-linecap="round" stroke-linejoin="round" />
<path d="M1180,960 L1230,880 L1270,890 L1290,960 L1250,990Z" fill="#9E2F8C" />
</g>
<ellipse cx="92" cy="1060" rx="36" ry="90" fill="#FAF8FA"/>
<path d="M690,330 L675,700 L655,1000" fill="none" stroke="#FAF8FA" stroke-width="7" stroke-linecap="round" stroke-linejoin="round" />
<path d="M1060,800 L1040,1000" fill="none" stroke="#FAF8FA" stroke-width="7" stroke-linecap="round" stroke-linejoin="round" />
</g>
<path d="M1198,1350H1422" stroke="#000" stroke-width="12"/>
</g>
<rect x="54.30" y="83.40" width="223.60" height="205.40" fill="none" stroke="#000" stroke-width="1.6" />
<rect x="292.70" y="83.40" width="223.60" height="205.40" fill="none" stroke="#000" stroke-width="1.6" />
<rect x="532.40" y="83.40" width="223.60" height="205.40" fill="none" stroke="#000" stroke-width="1.6" />
<rect x="771.40" y="83.40" width="223.60" height="205.40" fill="none" stroke="#000" stroke-width="1.6" />
</g>
<g id='pb'>
<text x="1076.50" y="38.50" font-size="51" fill="#000" class="sa" stroke="#000" stroke-width="0.4">b</text>
<path d="M1583.9,111.3L1579.7,107.7L1575.2,104.5L1570.3,101.6L1565.1,99.1L1559.5,97.0L1553.7,95.3L1547.6,93.9L1541.2,93.0L1534.5,92.4L1527.6,92.2L1520.6,92.5L1513.3,93.1L1505.8,94.1L1498.2,95.5L1490.5,97.3L1482.6,99.5L1474.6,102.1L1466.6,105.0L1458.6,108.3L1450.5,112.0L1442.4,116.0L1434.3,120.3L1426.3,125.0L1418.4,129.9L1410.5,135.2L1402.7,140.7L1395.1,146.5L1387.6,152.5L1380.3,158.8L1373.1,165.3L1366.2,172.0L1359.5,178.9L1353.1,185.9L1346.9,193.1L1341.0,200.4L1335.5,207.7L1330.2,215.2L1325.2,222.7L1320.6,230.3L1316.3,237.9L1312.5,245.5L1308.9,253.1L1305.8,260.6L1303.1,268.0L1300.8,275.4L1298.8,282.7L1297.3,289.8L1296.2,296.8L1295.6,303.7L1295.3,310.3L1295.5,316.8L1296.1,323.0L1297.1,329.0L1298.5,334.8L1300.4,340.3L1302.7,345.5L1305.3,350.4L1308.4,355.0L1311.8,359.2L1315.7,363.2L1319.9,366.8L1324.4,370.0L1329.3,372.9L1334.5,375.4L1340.1,377.5L1345.9,379.3L1352.0,380.6L1358.4,381.6L1365.1,382.1L1372.0,382.3L1379.0,382.1L1386.3,381.4L1393.8,380.4L1401.4,379.0L1409.2,377.2L1417.0,375.0L1425.0,372.4L1433.0,369.5L1441.0,366.2L1449.1,362.5L1457.2,358.5L1465.3,354.2L1473.3,349.6L1481.2,344.6L1489.1,339.4L1496.9,333.8L1504.5,328.0L1512.0,322.0L1519.3,315.7L1526.5,309.2L1533.4,302.5L1540.1,295.7L1546.5,288.6L1552.7,281.5L1558.6,274.2L1564.1,266.8L1569.4,259.3L1574.4,251.8L1579.0,244.2L1583.3,236.6L1587.1,229.0L1590.7,221.5L1593.8,213.9L1596.5,206.5L1598.8,199.1L1600.8,191.8L1602.3,184.7L1603.4,177.7L1604.0,170.8L1604.3,164.2L1604.1,157.7L1603.5,151.5L1602.5,145.5L1601.1,139.7L1599.2,134.3L1596.9,129.1L1594.3,124.1L1591.2,119.6L1587.8,115.3Z" fill="#7FFF00" fill-opacity="0.47" stroke="none"/>
<path d="M1153.1,111.3L1149.2,115.3L1145.8,119.6L1142.7,124.1L1140.1,129.1L1137.8,134.3L1135.9,139.7L1134.5,145.5L1133.5,151.5L1132.9,157.7L1132.7,164.2L1133.0,170.8L1133.6,177.7L1134.7,184.7L1136.2,191.8L1138.2,199.1L1140.5,206.5L1143.2,213.9L1146.3,221.5L1149.9,229.0L1153.7,236.6L1158.0,244.2L1162.6,251.8L1167.6,259.3L1172.9,266.8L1178.4,274.2L1184.3,281.5L1190.5,288.6L1196.9,295.7L1203.6,302.5L1210.5,309.2L1217.7,315.7L1225.0,322.0L1232.5,328.0L1240.1,333.8L1247.9,339.4L1255.8,344.6L1263.7,349.6L1271.7,354.2L1279.8,358.5L1287.9,362.5L1296.0,366.2L1304.0,369.5L1312.0,372.4L1320.0,375.0L1327.8,377.2L1335.6,379.0L1343.2,380.4L1350.7,381.4L1358.0,382.1L1365.0,382.3L1371.9,382.1L1378.6,381.6L1385.0,380.6L1391.1,379.3L1396.9,377.5L1402.5,375.4L1407.7,372.9L1412.6,370.0L1417.1,366.8L1421.3,363.2L1425.2,359.2L1428.6,355.0L1431.7,350.4L1434.3,345.5L1436.6,340.3L1438.5,334.8L1439.9,329.0L1440.9,323.0L1441.5,316.8L1441.7,310.3L1441.4,303.7L1440.8,296.8L1439.7,289.8L1438.2,282.7L1436.2,275.4L1433.9,268.0L1431.2,260.6L1428.1,253.1L1424.5,245.5L1420.7,237.9L1416.4,230.3L1411.8,222.7L1406.8,215.2L1401.5,207.7L1396.0,200.4L1390.1,193.1L1383.9,185.9L1377.5,178.9L1370.8,172.0L1363.9,165.3L1356.7,158.8L1349.4,152.5L1341.9,146.5L1334.3,140.7L1326.5,135.2L1318.6,129.9L1310.7,125.0L1302.7,120.3L1294.6,116.0L1286.5,112.0L1278.4,108.3L1270.4,105.0L1262.4,102.1L1254.4,99.5L1246.5,97.3L1238.8,95.5L1231.2,94.1L1223.7,93.1L1216.4,92.5L1209.4,92.2L1202.5,92.4L1195.8,93.0L1189.4,93.9L1183.3,95.3L1177.5,97.0L1171.9,99.1L1166.7,101.6L1161.8,104.5L1157.3,107.7Z" fill="#F2000F" fill-opacity="0.5" stroke="none"/>
<path d="M1495.0,67.7L1491.8,65.0L1488.3,62.7L1484.4,60.7L1480.3,59.0L1475.8,57.7L1471.0,56.8L1466.0,56.2L1460.7,56.0L1455.1,56.1L1449.3,56.6L1443.3,57.4L1437.0,58.6L1430.6,60.2L1424.0,62.0L1417.3,64.3L1410.4,66.8L1403.4,69.7L1396.3,72.9L1389.2,76.5L1382.0,80.3L1374.7,84.4L1367.4,88.8L1360.2,93.5L1352.9,98.4L1345.7,103.5L1338.6,108.9L1331.5,114.5L1324.5,120.3L1317.7,126.3L1311.0,132.4L1304.5,138.7L1298.1,145.1L1291.9,151.7L1286.0,158.3L1280.2,165.0L1274.7,171.7L1269.5,178.5L1264.5,185.4L1259.9,192.2L1255.5,199.0L1251.4,205.8L1247.7,212.5L1244.2,219.2L1241.2,225.7L1238.4,232.2L1236.0,238.5L1234.0,244.7L1232.4,250.7L1231.1,256.6L1230.2,262.2L1229.7,267.7L1229.6,272.9L1229.8,277.9L1230.5,282.6L1231.5,287.1L1232.8,291.3L1234.6,295.2L1236.7,298.8L1239.2,302.1L1242.0,305.1L1245.2,307.8L1248.7,310.1L1252.6,312.1L1256.7,313.7L1261.2,315.0L1266.0,316.0L1271.0,316.6L1276.3,316.8L1281.9,316.7L1287.7,316.2L1293.7,315.3L1300.0,314.2L1306.4,312.6L1313.0,310.7L1319.7,308.5L1326.6,305.9L1333.6,303.0L1340.7,299.8L1347.8,296.3L1355.0,292.5L1362.3,288.4L1369.6,284.0L1376.8,279.3L1384.1,274.4L1391.3,269.2L1398.4,263.9L1405.5,258.3L1412.5,252.5L1419.3,246.5L1426.0,240.4L1432.5,234.1L1438.9,227.6L1445.1,221.1L1451.0,214.5L1456.8,207.8L1462.3,201.0L1467.5,194.2L1472.5,187.4L1477.1,180.6L1481.5,173.8L1485.6,167.0L1489.3,160.3L1492.8,153.6L1495.8,147.0L1498.6,140.6L1501.0,134.3L1503.0,128.1L1504.6,122.1L1505.9,116.2L1506.8,110.5L1507.3,105.1L1507.4,99.9L1507.2,94.9L1506.5,90.1L1505.5,85.7L1504.2,81.5L1502.4,77.6L1500.3,73.9L1497.8,70.6Z" fill="#7F00FF" fill-opacity="0.5" stroke="none"/>
<path d="M1234.4,60.5L1231.5,63.5L1229.1,66.8L1227.0,70.5L1225.3,74.4L1224.1,78.7L1223.2,83.3L1222.7,88.2L1222.6,93.3L1222.9,98.7L1223.6,104.3L1224.7,110.2L1226.2,116.2L1228.1,122.5L1230.3,128.9L1233.0,135.5L1236.0,142.2L1239.4,149.1L1243.1,156.0L1247.2,163.1L1251.6,170.2L1256.4,177.3L1261.4,184.5L1266.8,191.6L1272.4,198.8L1278.3,205.9L1284.4,213.0L1290.7,220.0L1297.3,226.9L1304.1,233.7L1311.0,240.4L1318.1,246.9L1325.3,253.2L1332.7,259.4L1340.2,265.4L1347.7,271.1L1355.3,276.6L1362.9,281.9L1370.5,286.9L1378.2,291.6L1385.8,296.1L1393.3,300.2L1400.8,304.1L1408.2,307.6L1415.5,310.7L1422.7,313.6L1429.7,316.1L1436.6,318.2L1443.2,320.0L1449.7,321.4L1455.9,322.4L1461.9,323.1L1467.7,323.4L1473.1,323.3L1478.3,322.8L1483.2,322.0L1487.8,320.8L1492.0,319.2L1495.9,317.3L1499.4,315.0L1502.6,312.3L1505.5,309.3L1507.9,306.0L1510.0,302.3L1511.7,298.3L1512.9,294.0L1513.8,289.5L1514.3,284.6L1514.4,279.5L1514.1,274.1L1513.4,268.5L1512.3,262.6L1510.8,256.5L1508.9,250.3L1506.7,243.9L1504.0,237.3L1501.0,230.5L1497.6,223.7L1493.9,216.7L1489.8,209.7L1485.4,202.6L1480.6,195.5L1475.6,188.3L1470.2,181.1L1464.6,174.0L1458.7,166.8L1452.6,159.8L1446.3,152.8L1439.7,145.9L1432.9,139.1L1426.0,132.4L1418.9,125.9L1411.7,119.6L1404.3,113.4L1396.8,107.4L1389.3,101.7L1381.7,96.1L1374.1,90.9L1366.5,85.9L1358.8,81.1L1351.2,76.7L1343.7,72.5L1336.2,68.7L1328.8,65.2L1321.5,62.0L1314.3,59.2L1307.3,56.7L1300.4,54.6L1293.8,52.8L1287.3,51.4L1281.1,50.3L1275.1,49.7L1269.3,49.4L1263.9,49.5L1258.7,49.9L1253.8,50.8L1249.2,52.0L1245.0,53.6L1241.1,55.5L1237.6,57.8Z" fill="#00FFFF" fill-opacity="0.46" stroke="none"/>
<path d="M1583.9,111.3L1579.7,107.7L1575.2,104.5L1570.3,101.6L1565.1,99.1L1559.5,97.0L1553.7,95.3L1547.6,93.9L1541.2,93.0L1534.5,92.4L1527.6,92.2L1520.6,92.5L1513.3,93.1L1505.8,94.1L1498.2,95.5L1490.5,97.3L1482.6,99.5L1474.6,102.1L1466.6,105.0L1458.6,108.3L1450.5,112.0L1442.4,116.0L1434.3,120.3L1426.3,125.0L1418.4,129.9L1410.5,135.2L1402.7,140.7L1395.1,146.5L1387.6,152.5L1380.3,158.8L1373.1,165.3L1366.2,172.0L1359.5,178.9L1353.1,185.9L1346.9,193.1L1341.0,200.4L1335.5,207.7L1330.2,215.2L1325.2,222.7L1320.6,230.3L1316.3,237.9L1312.5,245.5L1308.9,253.1L1305.8,260.6L1303.1,268.0L1300.8,275.4L1298.8,282.7L1297.3,289.8L1296.2,296.8L1295.6,303.7L1295.3,310.3L1295.5,316.8L1296.1,323.0L1297.1,329.0L1298.5,334.8L1300.4,340.3L1302.7,345.5L1305.3,350.4L1308.4,355.0L1311.8,359.2L1315.7,363.2L1319.9,366.8L1324.4,370.0L1329.3,372.9L1334.5,375.4L1340.1,377.5L1345.9,379.3L1352.0,380.6L1358.4,381.6L1365.1,382.1L1372.0,382.3L1379.0,382.1L1386.3,381.4L1393.8,380.4L1401.4,379.0L1409.2,377.2L1417.0,375.0L1425.0,372.4L1433.0,369.5L1441.0,366.2L1449.1,362.5L1457.2,358.5L1465.3,354.2L1473.3,349.6L1481.2,344.6L1489.1,339.4L1496.9,333.8L1504.5,328.0L1512.0,322.0L1519.3,315.7L1526.5,309.2L1533.4,302.5L1540.1,295.7L1546.5,288.6L1552.7,281.5L1558.6,274.2L1564.1,266.8L1569.4,259.3L1574.4,251.8L1579.0,244.2L1583.3,236.6L1587.1,229.0L1590.7,221.5L1593.8,213.9L1596.5,206.5L1598.8,199.1L1600.8,191.8L1602.3,184.7L1603.4,177.7L1604.0,170.8L1604.3,164.2L1604.1,157.7L1603.5,151.5L1602.5,145.5L1601.1,139.7L1599.2,134.3L1596.9,129.1L1594.3,124.1L1591.2,119.6L1587.8,115.3Z" fill="none" stroke="#222" stroke-width="0.9"/>
<path d="M1153.1,111.3L1149.2,115.3L1145.8,119.6L1142.7,124.1L1140.1,129.1L1137.8,134.3L1135.9,139.7L1134.5,145.5L1133.5,151.5L1132.9,157.7L1132.7,164.2L1133.0,170.8L1133.6,177.7L1134.7,184.7L1136.2,191.8L1138.2,199.1L1140.5,206.5L1143.2,213.9L1146.3,221.5L1149.9,229.0L1153.7,236.6L1158.0,244.2L1162.6,251.8L1167.6,259.3L1172.9,266.8L1178.4,274.2L1184.3,281.5L1190.5,288.6L1196.9,295.7L1203.6,302.5L1210.5,309.2L1217.7,315.7L1225.0,322.0L1232.5,328.0L1240.1,333.8L1247.9,339.4L1255.8,344.6L1263.7,349.6L1271.7,354.2L1279.8,358.5L1287.9,362.5L1296.0,366.2L1304.0,369.5L1312.0,372.4L1320.0,375.0L1327.8,377.2L1335.6,379.0L1343.2,380.4L1350.7,381.4L1358.0,382.1L1365.0,382.3L1371.9,382.1L1378.6,381.6L1385.0,380.6L1391.1,379.3L1396.9,377.5L1402.5,375.4L1407.7,372.9L1412.6,370.0L1417.1,366.8L1421.3,363.2L1425.2,359.2L1428.6,355.0L1431.7,350.4L1434.3,345.5L1436.6,340.3L1438.5,334.8L1439.9,329.0L1440.9,323.0L1441.5,316.8L1441.7,310.3L1441.4,303.7L1440.8,296.8L1439.7,289.8L1438.2,282.7L1436.2,275.4L1433.9,268.0L1431.2,260.6L1428.1,253.1L1424.5,245.5L1420.7,237.9L1416.4,230.3L1411.8,222.7L1406.8,215.2L1401.5,207.7L1396.0,200.4L1390.1,193.1L1383.9,185.9L1377.5,178.9L1370.8,172.0L1363.9,165.3L1356.7,158.8L1349.4,152.5L1341.9,146.5L1334.3,140.7L1326.5,135.2L1318.6,129.9L1310.7,125.0L1302.7,120.3L1294.6,116.0L1286.5,112.0L1278.4,108.3L1270.4,105.0L1262.4,102.1L1254.4,99.5L1246.5,97.3L1238.8,95.5L1231.2,94.1L1223.7,93.1L1216.4,92.5L1209.4,92.2L1202.5,92.4L1195.8,93.0L1189.4,93.9L1183.3,95.3L1177.5,97.0L1171.9,99.1L1166.7,101.6L1161.8,104.5L1157.3,107.7Z" fill="none" stroke="#222" stroke-width="0.9"/>
<path d="M1495.0,67.7L1491.8,65.0L1488.3,62.7L1484.4,60.7L1480.3,59.0L1475.8,57.7L1471.0,56.8L1466.0,56.2L1460.7,56.0L1455.1,56.1L1449.3,56.6L1443.3,57.4L1437.0,58.6L1430.6,60.2L1424.0,62.0L1417.3,64.3L1410.4,66.8L1403.4,69.7L1396.3,72.9L1389.2,76.5L1382.0,80.3L1374.7,84.4L1367.4,88.8L1360.2,93.5L1352.9,98.4L1345.7,103.5L1338.6,108.9L1331.5,114.5L1324.5,120.3L1317.7,126.3L1311.0,132.4L1304.5,138.7L1298.1,145.1L1291.9,151.7L1286.0,158.3L1280.2,165.0L1274.7,171.7L1269.5,178.5L1264.5,185.4L1259.9,192.2L1255.5,199.0L1251.4,205.8L1247.7,212.5L1244.2,219.2L1241.2,225.7L1238.4,232.2L1236.0,238.5L1234.0,244.7L1232.4,250.7L1231.1,256.6L1230.2,262.2L1229.7,267.7L1229.6,272.9L1229.8,277.9L1230.5,282.6L1231.5,287.1L1232.8,291.3L1234.6,295.2L1236.7,298.8L1239.2,302.1L1242.0,305.1L1245.2,307.8L1248.7,310.1L1252.6,312.1L1256.7,313.7L1261.2,315.0L1266.0,316.0L1271.0,316.6L1276.3,316.8L1281.9,316.7L1287.7,316.2L1293.7,315.3L1300.0,314.2L1306.4,312.6L1313.0,310.7L1319.7,308.5L1326.6,305.9L1333.6,303.0L1340.7,299.8L1347.8,296.3L1355.0,292.5L1362.3,288.4L1369.6,284.0L1376.8,279.3L1384.1,274.4L1391.3,269.2L1398.4,263.9L1405.5,258.3L1412.5,252.5L1419.3,246.5L1426.0,240.4L1432.5,234.1L1438.9,227.6L1445.1,221.1L1451.0,214.5L1456.8,207.8L1462.3,201.0L1467.5,194.2L1472.5,187.4L1477.1,180.6L1481.5,173.8L1485.6,167.0L1489.3,160.3L1492.8,153.6L1495.8,147.0L1498.6,140.6L1501.0,134.3L1503.0,128.1L1504.6,122.1L1505.9,116.2L1506.8,110.5L1507.3,105.1L1507.4,99.9L1507.2,94.9L1506.5,90.1L1505.5,85.7L1504.2,81.5L1502.4,77.6L1500.3,73.9L1497.8,70.6Z" fill="none" stroke="#222" stroke-width="0.9"/>
<path d="M1234.4,60.5L1231.5,63.5L1229.1,66.8L1227.0,70.5L1225.3,74.4L1224.1,78.7L1223.2,83.3L1222.7,88.2L1222.6,93.3L1222.9,98.7L1223.6,104.3L1224.7,110.2L1226.2,116.2L1228.1,122.5L1230.3,128.9L1233.0,135.5L1236.0,142.2L1239.4,149.1L1243.1,156.0L1247.2,163.1L1251.6,170.2L1256.4,177.3L1261.4,184.5L1266.8,191.6L1272.4,198.8L1278.3,205.9L1284.4,213.0L1290.7,220.0L1297.3,226.9L1304.1,233.7L1311.0,240.4L1318.1,246.9L1325.3,253.2L1332.7,259.4L1340.2,265.4L1347.7,271.1L1355.3,276.6L1362.9,281.9L1370.5,286.9L1378.2,291.6L1385.8,296.1L1393.3,300.2L1400.8,304.1L1408.2,307.6L1415.5,310.7L1422.7,313.6L1429.7,316.1L1436.6,318.2L1443.2,320.0L1449.7,321.4L1455.9,322.4L1461.9,323.1L1467.7,323.4L1473.1,323.3L1478.3,322.8L1483.2,322.0L1487.8,320.8L1492.0,319.2L1495.9,317.3L1499.4,315.0L1502.6,312.3L1505.5,309.3L1507.9,306.0L1510.0,302.3L1511.7,298.3L1512.9,294.0L1513.8,289.5L1514.3,284.6L1514.4,279.5L1514.1,274.1L1513.4,268.5L1512.3,262.6L1510.8,256.5L1508.9,250.3L1506.7,243.9L1504.0,237.3L1501.0,230.5L1497.6,223.7L1493.9,216.7L1489.8,209.7L1485.4,202.6L1480.6,195.5L1475.6,188.3L1470.2,181.1L1464.6,174.0L1458.7,166.8L1452.6,159.8L1446.3,152.8L1439.7,145.9L1432.9,139.1L1426.0,132.4L1418.9,125.9L1411.7,119.6L1404.3,113.4L1396.8,107.4L1389.3,101.7L1381.7,96.1L1374.1,90.9L1366.5,85.9L1358.8,81.1L1351.2,76.7L1343.7,72.5L1336.2,68.7L1328.8,65.2L1321.5,62.0L1314.3,59.2L1307.3,56.7L1300.4,54.6L1293.8,52.8L1287.3,51.4L1281.1,50.3L1275.1,49.7L1269.3,49.4L1263.9,49.5L1258.7,49.9L1253.8,50.8L1249.2,52.0L1245.0,53.6L1241.1,55.5L1237.6,57.8Z" fill="none" stroke="#222" stroke-width="0.9"/>
<text x="1233.66" y="37.11" font-size="17.9" fill="#000" stroke="#000" stroke-width="0.3">CDAHFD</text>
<text x="1422.28" y="37.11" font-size="17.9" fill="#000" stroke="#000" stroke-width="0.3">CDAHFD+NIC</text>
<text x="1159.71" y="81.01" font-size="17.9" fill="#000" stroke="#000" stroke-width="0.3">Ctrl</text>
<text x="1562.70" y="81.01" font-size="17.9" fill="#000" stroke="#000" stroke-width="0.3">Ctrl+NIC</text>
<text x="1290.58" y="93.79" font-size="16.5" fill="#000" text-anchor="middle" stroke="#000" stroke-width="0.25">415</text>
<text x="1453.85" y="93.79" font-size="16.5" fill="#000" text-anchor="middle" stroke="#000" stroke-width="0.25">384</text>
<text x="1372.42" y="134.92" font-size="16.5" fill="#000" text-anchor="middle" stroke="#000" stroke-width="0.25">108</text>
<text x="1267.73" y="144.48" font-size="16.5" fill="#000" text-anchor="middle" stroke="#000" stroke-width="0.25">29</text>
<text x="1474.21" y="144.48" font-size="16.5" fill="#000" text-anchor="middle" stroke="#000" stroke-width="0.25">28</text>
<text x="1199.18" y="190.18" font-size="16.5" fill="#000" text-anchor="middle" stroke="#000" stroke-width="0.25">588</text>
<text x="1316.75" y="190.18" font-size="16.5" fill="#000" text-anchor="middle" stroke="#000" stroke-width="0.25">53</text>
<text x="1425.18" y="190.18" font-size="16.5" fill="#000" text-anchor="middle" stroke="#000" stroke-width="0.25">29</text>
<text x="1546.08" y="190.18" font-size="16.5" fill="#000" text-anchor="middle" stroke="#000" stroke-width="0.25">777</text>
<text x="1372.42" y="246.26" font-size="16.5" fill="#000" text-anchor="middle" stroke="#000" stroke-width="0.25">147</text>
<text x="1273.54" y="272.02" font-size="16.5" fill="#000" text-anchor="middle" stroke="#000" stroke-width="0.25">21</text>
<text x="1468.39" y="272.02" font-size="16.5" fill="#000" text-anchor="middle" stroke="#000" stroke-width="0.25">23</text>
<text x="1330.05" y="292.79" font-size="16.5" fill="#000" text-anchor="middle" stroke="#000" stroke-width="0.25">28</text>
<text x="1412.31" y="292.79" font-size="16.5" fill="#000" text-anchor="middle" stroke="#000" stroke-width="0.25">30</text>
<text x="1372.42" y="343.90" font-size="16.5" fill="#000" text-anchor="middle" stroke="#000" stroke-width="0.25">136</text>
</g>
<g id='pc'>
<text x="3.50" y="366.00" font-size="51" fill="#000" class="sa" stroke="#000" stroke-width="0.4">c</text>
<line x1="42.80" y1="420.50" x2="42.80" y2="1047.60" stroke="#000" stroke-width="3.0" />
<line x1="41.30" y1="1046.20" x2="504.00" y2="1046.20" stroke="#000" stroke-width="2.8" />
<text x="58.00" y="447.00" font-size="21.4" fill="#000" stroke="#000" stroke-width="0.4">Kruskal−Wallis, p = 0.025</text>
<text x="35.50" y="642.79" font-size="21" fill="#4d4d4d" text-anchor="end">5</text>
<text x="35.50" y="860.33" font-size="21" fill="#4d4d4d" text-anchor="end">4</text>
<line x1="38.50" y1="635.79" x2="42.00" y2="635.79" stroke="#333" stroke-width="1" />
<line x1="38.50" y1="853.33" x2="42.00" y2="853.33" stroke="#333" stroke-width="1" />
<circle cx="101.75" cy="637.89" r="3.50" fill="#000" />
<circle cx="94.04" cy="682.81" r="3.50" fill="#000" />
<circle cx="99.30" cy="682.46" r="3.50" fill="#000" />
<circle cx="85.61" cy="813.33" r="3.50" fill="#000" />
<circle cx="118.95" cy="814.39" r="3.50" fill="#000" />
<circle cx="126.32" cy="860.70" r="3.50" fill="#000" />
<circle cx="253.33" cy="496.14" r="3.50" fill="#000" />
<circle cx="202.11" cy="528.07" r="3.50" fill="#000" />
<circle cx="205.26" cy="628.42" r="3.50" fill="#000" />
<circle cx="208.42" cy="627.37" r="3.50" fill="#000" />
<circle cx="184.91" cy="647.72" r="3.50" fill="#000" />
<circle cx="205.96" cy="647.02" r="3.50" fill="#000" />
<circle cx="303.16" cy="457.89" r="3.50" fill="#000" />
<circle cx="303.16" cy="568.77" r="3.50" fill="#000" />
<circle cx="323.51" cy="568.42" r="3.50" fill="#000" />
<circle cx="285.96" cy="629.12" r="3.50" fill="#000" />
<circle cx="338.95" cy="629.82" r="3.50" fill="#000" />
<circle cx="312.28" cy="669.82" r="3.50" fill="#000" />
<circle cx="416.14" cy="518.95" r="3.50" fill="#000" />
<circle cx="440.00" cy="573.68" r="3.50" fill="#000" />
<circle cx="439.30" cy="676.14" r="3.50" fill="#000" />
<circle cx="457.19" cy="721.05" r="3.50" fill="#000" />
<circle cx="450.88" cy="975.79" r="3.50" fill="#000" />
<circle cx="383.51" cy="1008.42" r="3.50" fill="#000" />
<line x1="112.28" y1="637.89" x2="112.28" y2="860.70" stroke="#6CC4E4" stroke-width="2.8" />
<line x1="97.54" y1="637.89" x2="128.07" y2="637.89" stroke="#6CC4E4" stroke-width="2.8" />
<line x1="97.54" y1="860.70" x2="128.07" y2="860.70" stroke="#6CC4E4" stroke-width="2.8" />
<rect x="72.98" y="678.95" width="78.95" height="136.84" fill="none" stroke="#6CC4E4" stroke-width="2.8" />
<line x1="72.98" y1="750.53" x2="151.93" y2="750.53" stroke="#6CC4E4" stroke-width="2.38" />
<line x1="216.49" y1="496.49" x2="216.49" y2="655.79" stroke="#E8242F" stroke-width="2.8" />
<line x1="201.05" y1="496.49" x2="231.58" y2="496.49" stroke="#E8242F" stroke-width="2.8" />
<line x1="201.05" y1="655.79" x2="231.58" y2="655.79" stroke="#E8242F" stroke-width="2.8" />
<rect x="177.19" y="552.63" width="78.95" height="84.91" fill="none" stroke="#E8242F" stroke-width="2.8" />
<line x1="177.19" y1="627.72" x2="256.14" y2="627.72" stroke="#E8242F" stroke-width="2.38" />
<line x1="320.35" y1="560.70" x2="320.35" y2="669.82" stroke="#3F519F" stroke-width="2.8" />
<line x1="305.26" y1="560.70" x2="335.79" y2="560.70" stroke="#3F519F" stroke-width="2.8" />
<line x1="305.26" y1="669.82" x2="335.79" y2="669.82" stroke="#3F519F" stroke-width="2.8" />
<rect x="280.70" y="563.86" width="79.65" height="67.37" fill="none" stroke="#3F519F" stroke-width="2.8" />
<line x1="280.70" y1="601.40" x2="360.35" y2="601.40" stroke="#3F519F" stroke-width="2.38" />
<line x1="424.21" y1="518.60" x2="424.21" y2="1008.77" stroke="#D2691E" stroke-width="2.8" />
<line x1="408.77" y1="518.60" x2="439.65" y2="518.60" stroke="#D2691E" stroke-width="2.8" />
<line x1="408.77" y1="1008.77" x2="439.65" y2="1008.77" stroke="#D2691E" stroke-width="2.8" />
<rect x="384.91" y="599.30" width="78.95" height="312.63" fill="none" stroke="#D2691E" stroke-width="2.8" />
<line x1="384.91" y1="698.25" x2="463.86" y2="698.25" stroke="#D2691E" stroke-width="2.38" />
<text x="65.00" y="1003.50" font-size="30" fill="#000" stroke="#000" stroke-width="0.3">Shannon</text>
<text x="115.79" y="1066.60" font-size="21" fill="#000" text-anchor="middle" stroke="#000" stroke-width="0.3">Ctrl</text>
<text x="218.95" y="1066.60" font-size="21" fill="#000" text-anchor="middle" stroke="#000" stroke-width="0.3">Ctrl+NIC</text>
<text x="324.21" y="1066.60" font-size="21" fill="#000" text-anchor="middle" stroke="#000" stroke-width="0.3">CDAHFD</text>
<text x="445.26" y="1066.60" font-size="21" fill="#000" text-anchor="middle" stroke="#000" stroke-width="0.3">CDAHFD+NIC</text>
<line x1="112.28" y1="1046.00" x2="112.28" y2="1049.50" stroke="#333" stroke-width="1" />
<line x1="216.49" y1="1046.00" x2="216.49" y2="1049.50" stroke="#333" stroke-width="1" />
<line x1="320.35" y1="1046.00" x2="320.35" y2="1049.50" stroke="#333" stroke-width="1" />
<line x1="424.21" y1="1046.00" x2="424.21" y2="1049.50" stroke="#333" stroke-width="1" />
</g>
<g id='pd'>
<text x="534.00" y="366.00" font-size="51" fill="#000" class="sa" stroke="#000" stroke-width="0.4">d</text>
<line x1="601.40" y1="420.50" x2="601.40" y2="1047.70" stroke="#000" stroke-width="2.9" />
<line x1="600.00" y1="1046.30" x2="1075.00" y2="1046.30" stroke="#000" stroke-width="2.9" />
<text x="606.50" y="438.80" font-size="23" fill="#000" stroke="#000" stroke-width="0.35">Kruskal−Wallis, p = 0.0083</text>
<text x="592.50" y="461.69" font-size="19.5" fill="#000" text-anchor="end" stroke="#000" stroke-width="0.45">0.95</text>
<line x1="596.50" y1="455.09" x2="600.50" y2="455.09" stroke="#000" stroke-width="1.2" />
<text x="592.50" y="580.28" font-size="19.5" fill="#000" text-anchor="end" stroke="#000" stroke-width="0.45">0.9</text>
<line x1="596.50" y1="573.68" x2="600.50" y2="573.68" stroke="#000" stroke-width="1.2" />
<text x="592.50" y="703.09" font-size="19.5" fill="#000" text-anchor="end" stroke="#000" stroke-width="0.45">0.85</text>
<line x1="596.50" y1="696.49" x2="600.50" y2="696.49" stroke="#000" stroke-width="1.2" />
<text x="592.50" y="823.09" font-size="19.5" fill="#000" text-anchor="end" stroke="#000" stroke-width="0.45">0.80</text>
<line x1="596.50" y1="816.49" x2="600.50" y2="816.49" stroke="#000" stroke-width="1.2" />
<text x="592.50" y="944.14" font-size="19.5" fill="#000" text-anchor="end" stroke="#000" stroke-width="0.45">0.75</text>
<line x1="596.50" y1="937.54" x2="600.50" y2="937.54" stroke="#000" stroke-width="1.2" />
<circle cx="648.77" cy="523.86" r="3.80" fill="#000" />
<circle cx="682.46" cy="552.63" r="3.80" fill="#000" />
<circle cx="675.44" cy="664.91" r="3.80" fill="#000" />
<circle cx="661.40" cy="759.30" r="3.80" fill="#000" />
<circle cx="710.88" cy="759.30" r="3.80" fill="#000" />
<circle cx="682.11" cy="786.32" r="3.80" fill="#000" />
<circle cx="793.33" cy="457.89" r="3.80" fill="#000" />
<circle cx="751.23" cy="482.11" r="3.80" fill="#000" />
<circle cx="760.00" cy="481.75" r="3.80" fill="#000" />
<circle cx="777.89" cy="481.75" r="3.80" fill="#000" />
<circle cx="812.98" cy="481.75" r="3.80" fill="#000" />
<circle cx="839.65" cy="481.75" r="3.80" fill="#000" />
<circle cx="851.93" cy="490.88" r="3.80" fill="#000" />
<circle cx="860.70" cy="528.42" r="3.80" fill="#000" />
<circle cx="870.18" cy="550.18" r="3.80" fill="#000" />
<circle cx="923.51" cy="549.82" r="3.80" fill="#000" />
<circle cx="881.05" cy="586.67" r="3.80" fill="#000" />
<circle cx="915.44" cy="662.11" r="3.80" fill="#000" />
<circle cx="1027.02" cy="471.58" r="3.80" fill="#000" />
<circle cx="988.07" cy="497.19" r="3.80" fill="#000" />
<circle cx="1023.86" cy="645.26" r="3.80" fill="#000" />
<circle cx="960.35" cy="681.75" r="3.80" fill="#000" />
<circle cx="985.26" cy="930.18" r="3.80" fill="#000" />
<circle cx="1017.89" cy="1008.42" r="3.80" fill="#000" />
<line x1="670.53" y1="523.86" x2="670.53" y2="785.96" stroke="#6CC4E4" stroke-width="2.8" />
<line x1="654.04" y1="523.86" x2="686.32" y2="523.86" stroke="#6CC4E4" stroke-width="2.8" />
<line x1="654.04" y1="785.96" x2="686.32" y2="785.96" stroke="#6CC4E4" stroke-width="2.8" />
<rect x="628.42" y="579.65" width="83.51" height="180.00" fill="none" stroke="#6CC4E4" stroke-width="2.8" />
<line x1="628.42" y1="710.53" x2="711.93" y2="710.53" stroke="#6CC4E4" stroke-width="2.38" />
<line x1="780.35" y1="457.89" x2="780.35" y2="490.53" stroke="#E8242F" stroke-width="2.8" />
<line x1="764.56" y1="457.89" x2="796.14" y2="457.89" stroke="#E8242F" stroke-width="2.8" />
<line x1="764.56" y1="490.53" x2="796.14" y2="490.53" stroke="#E8242F" stroke-width="2.8" />
<rect x="738.60" y="473.68" width="83.86" height="12.63" fill="none" stroke="#E8242F" stroke-width="2.8" />
<line x1="738.60" y1="478.60" x2="822.46" y2="478.60" stroke="#E8242F" stroke-width="2.38" />
<line x1="890.88" y1="490.53" x2="890.88" y2="585.96" stroke="#3F519F" stroke-width="2.8" />
<line x1="874.39" y1="490.53" x2="906.67" y2="490.53" stroke="#3F519F" stroke-width="2.8" />
<line x1="874.39" y1="585.96" x2="906.67" y2="585.96" stroke="#3F519F" stroke-width="2.8" />
<rect x="848.77" y="531.58" width="83.51" height="48.07" fill="none" stroke="#3F519F" stroke-width="2.8" />
<line x1="848.77" y1="550.18" x2="932.28" y2="550.18" stroke="#3F519F" stroke-width="2.38" />
<line x1="1000.70" y1="471.58" x2="1000.70" y2="1008.77" stroke="#D2691E" stroke-width="2.8" />
<line x1="984.91" y1="471.58" x2="1017.19" y2="471.58" stroke="#D2691E" stroke-width="2.8" />
<line x1="984.91" y1="1008.77" x2="1017.19" y2="1008.77" stroke="#D2691E" stroke-width="2.8" />
<rect x="958.60" y="533.68" width="83.86" height="334.39" fill="none" stroke="#D2691E" stroke-width="2.8" />
<line x1="958.60" y1="663.16" x2="1042.46" y2="663.16" stroke="#D2691E" stroke-width="2.38" />
<text x="620.00" y="1005.80" font-size="31.5" fill="#000" stroke="#000" stroke-width="0.35">Simpson</text>
<text x="666.32" y="1067.60" font-size="22.5" fill="#000" text-anchor="middle" stroke="#000" stroke-width="0.5">Ctrl</text>
<text x="778.95" y="1068.60" font-size="22.5" fill="#000" text-anchor="middle" stroke="#000" stroke-width="0.5">Ctrl+NIC</text>
<text x="893.68" y="1067.10" font-size="22.5" fill="#000" text-anchor="middle" stroke="#000" stroke-width="0.5">CDAHFD</text>
<text x="1017.89" y="1067.60" font-size="22.5" fill="#000" text-anchor="middle" stroke="#000" stroke-width="0.5">CDAHFD+NIC</text>
<line x1="670.53" y1="1046.00" x2="670.53" y2="1049.50" stroke="#000" stroke-width="1" />
<line x1="780.35" y1="1046.00" x2="780.35" y2="1049.50" stroke="#000" stroke-width="1" />
<line x1="890.88" y1="1046.00" x2="890.88" y2="1049.50" stroke="#000" stroke-width="1" />
<line x1="1000.70" y1="1046.00" x2="1000.70" y2="1049.50" stroke="#000" stroke-width="1" />
</g>
<g id='pe'>
<text x="1093.00" y="367.50" font-size="51" fill="#000" class="sa" stroke="#000" stroke-width="0.4">e</text>
<rect x="1191.20" y="408.20" width="527.40" height="641.40" fill="none" stroke="#2b2b2b" stroke-width="2.0" />
<text x="1185.30" y="462.04" font-size="20.4" fill="#4a4a4a" text-anchor="end">0.6</text>
<line x1="1187.00" y1="454.94" x2="1190.40" y2="454.94" stroke="#333" stroke-width="1.2" />
<text x="1185.30" y="607.89" font-size="20.4" fill="#4a4a4a" text-anchor="end">0.3</text>
<line x1="1187.00" y1="600.79" x2="1190.40" y2="600.79" stroke="#333" stroke-width="1.2" />
<text x="1185.30" y="753.34" font-size="20.4" fill="#4a4a4a" text-anchor="end">0.0</text>
<line x1="1187.00" y1="746.24" x2="1190.40" y2="746.24" stroke="#333" stroke-width="1.2" />
<text x="1185.30" y="898.78" font-size="20.4" fill="#4a4a4a" text-anchor="end">−0.3</text>
<line x1="1187.00" y1="891.68" x2="1190.40" y2="891.68" stroke="#333" stroke-width="1.2" />
<text x="1185.30" y="1044.63" font-size="20.4" fill="#4a4a4a" text-anchor="end">−0.6</text>
<line x1="1187.00" y1="1037.53" x2="1190.40" y2="1037.53" stroke="#333" stroke-width="1.2" />
<text x="1212.96" y="1072.90" font-size="19.6" fill="#4a4a4a" text-anchor="middle">−0.6</text>
<line x1="1212.96" y1="1050.40" x2="1212.96" y2="1055.30" stroke="#333" stroke-width="1.1" />
<text x="1308.44" y="1072.90" font-size="19.6" fill="#4a4a4a" text-anchor="middle">−0.4</text>
<line x1="1308.44" y1="1050.40" x2="1308.44" y2="1055.30" stroke="#333" stroke-width="1.1" />
<text x="1403.53" y="1072.90" font-size="19.6" fill="#4a4a4a" text-anchor="middle">−0.2</text>
<line x1="1403.53" y1="1050.40" x2="1403.53" y2="1055.30" stroke="#333" stroke-width="1.1" />
<text x="1499.02" y="1072.90" font-size="19.6" fill="#4a4a4a" text-anchor="middle">0.0</text>
<line x1="1499.02" y1="1050.40" x2="1499.02" y2="1055.30" stroke="#333" stroke-width="1.1" />
<text x="1594.10" y="1072.90" font-size="19.6" fill="#4a4a4a" text-anchor="middle">0.2</text>
<line x1="1594.10" y1="1050.40" x2="1594.10" y2="1055.30" stroke="#333" stroke-width="1.1" />
<text x="1689.59" y="1072.90" font-size="19.6" fill="#4a4a4a" text-anchor="middle">0.4</text>
<line x1="1689.59" y1="1050.40" x2="1689.59" y2="1055.30" stroke="#333" stroke-width="1.1" />
<text x="1458.73" y="1098.80" font-size="19.5" fill="#000" text-anchor="middle" stroke="#000" stroke-width="0.25">PCoA 1 (39.58%)</text>
<text x="1150.50" y="724.48" font-size="19.5" fill="#000" text-anchor="middle" transform="rotate(-90.00 1150.50 724.48)" stroke="#000" stroke-width="0.25">PCoA 2 (14.23%)</text>
<path d="M1461.4,680.7L1461.3,678.3L1461.0,676.0L1460.5,673.9L1459.9,671.9L1459.0,670.1L1458.0,668.4L1456.7,666.9L1455.3,665.5L1453.7,664.4L1452.0,663.3L1450.0,662.5L1447.9,661.8L1445.6,661.3L1443.1,660.9L1440.5,660.7L1437.7,660.7L1434.8,660.9L1431.7,661.2L1428.4,661.7L1425.1,662.4L1421.5,663.2L1417.9,664.2L1414.1,665.4L1410.2,666.7L1406.2,668.2L1402.1,669.9L1397.9,671.7L1393.6,673.7L1389.3,675.8L1384.8,678.1L1380.3,680.5L1375.6,683.0L1371.0,685.7L1366.3,688.5L1361.5,691.5L1356.7,694.5L1351.9,697.7L1347.0,701.0L1342.2,704.4L1337.3,707.9L1332.4,711.6L1327.6,715.3L1322.7,719.1L1317.9,722.9L1313.1,726.9L1308.3,730.9L1303.6,735.0L1299.0,739.1L1294.3,743.3L1289.8,747.5L1285.3,751.8L1281.0,756.1L1276.7,760.4L1272.5,764.7L1268.4,769.1L1264.4,773.4L1260.5,777.8L1256.7,782.1L1253.1,786.4L1249.5,790.7L1246.2,795.0L1242.9,799.2L1239.8,803.4L1236.9,807.6L1234.1,811.7L1231.5,815.7L1229.0,819.6L1226.7,823.5L1224.6,827.3L1222.6,831.0L1220.9,834.7L1219.3,838.2L1217.9,841.6L1216.6,844.9L1215.6,848.1L1214.7,851.2L1214.1,854.2L1213.6,857.0L1213.3,859.7L1213.2,862.3L1213.3,864.7L1213.6,867.0L1214.1,869.1L1214.7,871.1L1215.6,872.9L1216.6,874.6L1217.9,876.1L1219.3,877.5L1220.9,878.6L1222.6,879.7L1224.6,880.5L1226.7,881.2L1229.0,881.7L1231.5,882.1L1234.1,882.3L1236.9,882.3L1239.8,882.1L1242.9,881.8L1246.2,881.3L1249.5,880.6L1253.1,879.8L1256.7,878.8L1260.5,877.6L1264.4,876.3L1268.4,874.8L1272.5,873.1L1276.7,871.3L1281.0,869.3L1285.3,867.2L1289.8,864.9L1294.3,862.5L1299.0,860.0L1303.6,857.3L1308.3,854.5L1313.1,851.5L1317.9,848.5L1322.7,845.3L1327.6,842.0L1332.4,838.6L1337.3,835.1L1342.2,831.4L1347.0,827.7L1351.9,823.9L1356.7,820.1L1361.5,816.1L1366.3,812.1L1371.0,808.0L1375.6,803.9L1380.3,799.7L1384.8,795.5L1389.3,791.2L1393.6,786.9L1397.9,782.6L1402.1,778.3L1406.2,773.9L1410.2,769.6L1414.1,765.2L1417.9,760.9L1421.5,756.6L1425.1,752.3L1428.4,748.0L1431.7,743.8L1434.8,739.6L1437.7,735.4L1440.5,731.3L1443.1,727.3L1445.6,723.4L1447.9,719.5L1450.0,715.7L1452.0,712.0L1453.7,708.3L1455.3,704.8L1456.7,701.4L1458.0,698.1L1459.0,694.9L1459.9,691.8L1460.5,688.8L1461.0,686.0L1461.3,683.3Z" fill="none" stroke="#E9726C" stroke-width="3.8" stroke-dasharray="5.1 5.6"/>
<path d="M1396.2,696.3L1396.2,693.6L1396.0,691.0L1395.8,688.4L1395.5,685.8L1395.1,683.3L1394.6,680.9L1394.0,678.5L1393.4,676.1L1392.6,673.9L1391.8,671.7L1390.9,669.6L1389.9,667.5L1388.8,665.5L1387.6,663.6L1386.4,661.8L1385.1,660.1L1383.7,658.5L1382.3,657.0L1380.7,655.5L1379.2,654.2L1377.5,653.0L1375.8,651.8L1374.0,650.8L1372.2,649.8L1370.3,649.0L1368.4,648.3L1366.4,647.7L1364.4,647.2L1362.4,646.8L1360.3,646.5L1358.1,646.4L1356.0,646.3L1353.8,646.4L1351.6,646.5L1349.4,646.8L1347.1,647.2L1344.8,647.7L1342.6,648.3L1340.3,649.0L1338.0,649.8L1335.7,650.8L1333.4,651.8L1331.2,653.0L1328.9,654.2L1326.6,655.5L1324.4,657.0L1322.2,658.5L1320.0,660.1L1317.9,661.8L1315.7,663.6L1313.6,665.5L1311.6,667.5L1309.6,669.6L1307.6,671.7L1305.7,673.9L1303.8,676.1L1302.0,678.5L1300.2,680.9L1298.5,683.3L1296.8,685.8L1295.3,688.4L1293.7,691.0L1292.3,693.6L1290.9,696.3L1289.6,699.0L1288.4,701.8L1287.2,704.6L1286.1,707.4L1285.1,710.2L1284.2,713.0L1283.4,715.9L1282.6,718.7L1282.0,721.5L1281.4,724.4L1280.9,727.2L1280.5,730.0L1280.2,732.8L1280.0,735.6L1279.8,738.4L1279.8,741.1L1279.8,743.8L1280.0,746.4L1280.2,749.0L1280.5,751.6L1280.9,754.1L1281.4,756.5L1282.0,758.9L1282.6,761.3L1283.4,763.5L1284.2,765.7L1285.1,767.8L1286.1,769.9L1287.2,771.9L1288.4,773.8L1289.6,775.6L1290.9,777.3L1292.3,778.9L1293.7,780.4L1295.3,781.9L1296.8,783.2L1298.5,784.4L1300.2,785.6L1302.0,786.6L1303.8,787.6L1305.7,788.4L1307.6,789.1L1309.6,789.7L1311.6,790.2L1313.6,790.6L1315.7,790.9L1317.9,791.0L1320.0,791.1L1322.2,791.0L1324.4,790.9L1326.6,790.6L1328.9,790.2L1331.2,789.7L1333.4,789.1L1335.7,788.4L1338.0,787.6L1340.3,786.6L1342.6,785.6L1344.8,784.4L1347.1,783.2L1349.4,781.9L1351.6,780.4L1353.8,778.9L1356.0,777.3L1358.1,775.6L1360.3,773.8L1362.4,771.9L1364.4,769.9L1366.4,767.8L1368.4,765.7L1370.3,763.5L1372.2,761.3L1374.0,758.9L1375.8,756.5L1377.5,754.1L1379.2,751.6L1380.7,749.0L1382.3,746.4L1383.7,743.8L1385.1,741.1L1386.4,738.4L1387.6,735.6L1388.8,732.8L1389.9,730.0L1390.9,727.2L1391.8,724.4L1392.6,721.5L1393.4,718.7L1394.0,715.9L1394.6,713.0L1395.1,710.2L1395.5,707.4L1395.8,704.6L1396.0,701.8L1396.2,699.0Z" fill="none" stroke="#7CB518" stroke-width="3.8" stroke-dasharray="5.1 5.6"/>
<path d="M1687.1,660.2L1687.1,653.3L1687.0,646.4L1686.9,639.5L1686.7,632.5L1686.4,625.5L1686.1,618.5L1685.8,611.5L1685.3,604.5L1684.9,597.5L1684.3,590.5L1683.8,583.6L1683.1,576.7L1682.5,569.9L1681.7,563.1L1680.9,556.5L1680.1,549.9L1679.2,543.4L1678.3,537.0L1677.4,530.8L1676.4,524.7L1675.3,518.7L1674.2,512.8L1673.1,507.2L1672.0,501.7L1670.8,496.3L1669.6,491.2L1668.3,486.2L1667.1,481.5L1665.8,476.9L1664.4,472.6L1663.1,468.5L1661.7,464.6L1660.3,460.9L1658.9,457.5L1657.5,454.4L1656.1,451.4L1654.7,448.8L1653.2,446.3L1651.8,444.2L1650.3,442.3L1648.9,440.7L1647.5,439.3L1646.0,438.2L1644.6,437.4L1643.2,436.9L1641.8,436.6L1640.4,436.6L1639.0,436.9L1637.6,437.5L1636.3,438.3L1634.9,439.5L1633.6,440.8L1632.4,442.5L1631.1,444.4L1629.9,446.6L1628.7,449.0L1627.6,451.7L1626.5,454.7L1625.4,457.9L1624.3,461.3L1623.3,465.0L1622.4,468.9L1621.5,473.1L1620.6,477.4L1619.8,482.0L1619.0,486.8L1618.2,491.8L1617.6,496.9L1616.9,502.3L1616.4,507.8L1615.8,513.5L1615.4,519.3L1614.9,525.3L1614.6,531.5L1614.3,537.7L1614.0,544.1L1613.8,550.6L1613.7,557.2L1613.6,563.9L1613.5,570.6L1613.6,577.5L1613.7,584.4L1613.8,591.3L1614.0,598.3L1614.3,605.3L1614.6,612.3L1614.9,619.3L1615.4,626.3L1615.8,633.3L1616.4,640.3L1616.9,647.2L1617.6,654.1L1618.2,660.9L1619.0,667.7L1619.8,674.3L1620.6,680.9L1621.5,687.4L1622.4,693.8L1623.3,700.0L1624.3,706.1L1625.4,712.1L1626.5,718.0L1627.6,723.6L1628.7,729.1L1629.9,734.5L1631.1,739.6L1632.4,744.6L1633.6,749.3L1634.9,753.9L1636.3,758.2L1637.6,762.3L1639.0,766.2L1640.4,769.9L1641.8,773.3L1643.2,776.4L1644.6,779.4L1646.0,782.0L1647.5,784.5L1648.9,786.6L1650.3,788.5L1651.8,790.1L1653.2,791.5L1654.7,792.6L1656.1,793.4L1657.5,793.9L1658.9,794.2L1660.3,794.2L1661.7,793.9L1663.1,793.3L1664.4,792.5L1665.8,791.3L1667.1,790.0L1668.3,788.3L1669.6,786.4L1670.8,784.2L1672.0,781.8L1673.1,779.1L1674.2,776.1L1675.3,772.9L1676.4,769.5L1677.4,765.8L1678.3,761.9L1679.2,757.7L1680.1,753.4L1680.9,748.8L1681.7,744.0L1682.5,739.0L1683.1,733.9L1683.8,728.5L1684.3,723.0L1684.9,717.3L1685.3,711.5L1685.8,705.5L1686.1,699.3L1686.4,693.1L1686.7,686.7L1686.9,680.2L1687.0,673.6L1687.1,666.9Z" fill="none" stroke="#4EC8C3" stroke-width="3.8" stroke-dasharray="5.1 5.6"/>
<path d="M1694.6,819.1L1694.6,813.2L1694.5,807.4L1694.4,801.7L1694.2,796.1L1694.0,790.6L1693.8,785.3L1693.5,780.0L1693.1,774.9L1692.7,769.9L1692.3,765.0L1691.8,760.4L1691.3,755.8L1690.8,751.5L1690.2,747.3L1689.5,743.3L1688.9,739.5L1688.1,735.9L1687.4,732.4L1686.6,729.2L1685.8,726.2L1684.9,723.4L1684.0,720.8L1683.1,718.5L1682.2,716.4L1681.2,714.5L1680.2,712.8L1679.2,711.4L1678.2,710.2L1677.1,709.2L1676.0,708.5L1674.9,708.1L1673.8,707.8L1672.7,707.8L1671.5,708.1L1670.4,708.6L1669.2,709.3L1668.0,710.3L1666.9,711.5L1665.7,713.0L1664.5,714.7L1663.3,716.6L1662.1,718.7L1661.0,721.1L1659.8,723.7L1658.6,726.5L1657.5,729.6L1656.3,732.8L1655.2,736.2L1654.1,739.9L1653.0,743.7L1651.9,747.7L1650.8,751.9L1649.8,756.3L1648.8,760.9L1647.8,765.6L1646.8,770.4L1645.9,775.4L1645.0,780.6L1644.1,785.9L1643.2,791.3L1642.4,796.8L1641.6,802.4L1640.9,808.1L1640.1,813.9L1639.5,819.8L1638.8,825.7L1638.2,831.7L1637.7,837.8L1637.2,843.9L1636.7,850.0L1636.3,856.2L1635.9,862.4L1635.5,868.5L1635.2,874.7L1635.0,880.9L1634.8,887.0L1634.6,893.1L1634.5,899.1L1634.4,905.1L1634.4,911.1L1634.4,917.0L1634.5,922.8L1634.6,928.5L1634.8,934.1L1635.0,939.6L1635.2,944.9L1635.5,950.2L1635.9,955.3L1636.3,960.3L1636.7,965.2L1637.2,969.8L1637.7,974.4L1638.2,978.7L1638.8,982.9L1639.5,986.9L1640.1,990.7L1640.9,994.3L1641.6,997.8L1642.4,1001.0L1643.2,1004.0L1644.1,1006.8L1645.0,1009.4L1645.9,1011.7L1646.8,1013.8L1647.8,1015.7L1648.8,1017.4L1649.8,1018.8L1650.8,1020.0L1651.9,1021.0L1653.0,1021.7L1654.1,1022.1L1655.2,1022.4L1656.3,1022.4L1657.5,1022.1L1658.6,1021.6L1659.8,1020.9L1661.0,1019.9L1662.1,1018.7L1663.3,1017.2L1664.5,1015.5L1665.7,1013.6L1666.9,1011.5L1668.0,1009.1L1669.2,1006.5L1670.4,1003.7L1671.5,1000.6L1672.7,997.4L1673.8,994.0L1674.9,990.3L1676.0,986.5L1677.1,982.5L1678.2,978.3L1679.2,973.9L1680.2,969.3L1681.2,964.6L1682.2,959.8L1683.1,954.8L1684.0,949.6L1684.9,944.3L1685.8,938.9L1686.6,933.4L1687.4,927.8L1688.1,922.1L1688.9,916.3L1689.5,910.4L1690.2,904.5L1690.8,898.5L1691.3,892.4L1691.8,886.3L1692.3,880.2L1692.7,874.0L1693.1,867.8L1693.5,861.7L1693.8,855.5L1694.0,849.3L1694.2,843.2L1694.4,837.1L1694.5,831.1L1694.6,825.1Z" fill="none" stroke="#C67DF7" stroke-width="3.8" stroke-dasharray="5.1 5.6"/>
<circle cx="1372.91" cy="720.85" r="4.50" fill="#E9726C" />
<circle cx="1380.56" cy="728.91" r="4.50" fill="#E9726C" />
<circle cx="1330.20" cy="786.93" r="4.50" fill="#E9726C" />
<circle cx="1372.10" cy="792.17" r="4.50" fill="#E9726C" />
<circle cx="1287.49" cy="799.42" r="4.50" fill="#E9726C" />
<circle cx="1301.60" cy="797.81" r="4.50" fill="#E9726C" />
<circle cx="1333.83" cy="706.35" r="4.50" fill="#7CB518" />
<circle cx="1339.07" cy="706.75" r="4.50" fill="#7CB518" />
<circle cx="1388.22" cy="701.92" r="4.50" fill="#7CB518" />
<circle cx="1318.92" cy="743.82" r="4.50" fill="#7CB518" />
<circle cx="1343.09" cy="761.55" r="4.50" fill="#7CB518" />
<circle cx="1646.08" cy="574.20" r="4.50" fill="#4EC8C3" />
<circle cx="1651.72" cy="577.82" r="4.50" fill="#4EC8C3" />
<circle cx="1654.94" cy="600.79" r="4.50" fill="#4EC8C3" />
<circle cx="1630.36" cy="606.43" r="4.50" fill="#4EC8C3" />
<circle cx="1669.44" cy="674.92" r="4.50" fill="#4EC8C3" />
<circle cx="1648.09" cy="739.79" r="4.50" fill="#4EC8C3" />
<circle cx="1663.40" cy="746.64" r="4.50" fill="#C67DF7" />
<circle cx="1658.57" cy="848.17" r="4.50" fill="#C67DF7" />
<circle cx="1668.24" cy="867.91" r="4.50" fill="#C67DF7" />
<circle cx="1671.86" cy="873.55" r="4.50" fill="#C67DF7" />
<circle cx="1667.03" cy="892.09" r="4.50" fill="#C67DF7" />
<circle cx="1638.02" cy="948.90" r="4.50" fill="#C67DF7" />
<circle cx="1215.40" cy="958.57" r="8.00" fill="#E9726C" />
<text x="1230.00" y="964.07" font-size="16.6" fill="#000">Ctrl</text>
<circle cx="1215.40" cy="978.63" r="8.00" fill="#7CB518" />
<text x="1230.00" y="984.13" font-size="16.6" fill="#000">Ctrl+NIC</text>
<circle cx="1215.40" cy="998.69" r="8.00" fill="#C67DF7" />
<text x="1230.00" y="1004.19" font-size="16.6" fill="#000">CDAHFD</text>
<circle cx="1215.40" cy="1018.76" r="8.00" fill="#4EC8C3" />
<text x="1230.00" y="1024.26" font-size="16.6" fill="#000">CDAHFD+NIC</text>
</g>
<g id='pf'>
<text x="4.00" y="1166.00" font-size="51" fill="#000" class="sa" stroke="#000" stroke-width="0.4">f</text>
<line x1="83.00" y1="1215.00" x2="83.00" y2="1925.00" stroke="#000" stroke-width="3" />
<line x1="81.50" y1="1923.70" x2="560.00" y2="1923.70" stroke="#000" stroke-width="2.8" />
<text x="76.00" y="1255.82" font-size="21" fill="#3d3d3d" text-anchor="end">1.00</text>
<line x1="78.50" y1="1247.82" x2="81.80" y2="1247.82" stroke="#333" stroke-width="1" />
<text x="76.00" y="1416.22" font-size="21" fill="#3d3d3d" text-anchor="end">0.75</text>
<line x1="78.50" y1="1408.22" x2="81.80" y2="1408.22" stroke="#333" stroke-width="1" />
<text x="76.00" y="1576.62" font-size="21" fill="#3d3d3d" text-anchor="end">0.50</text>
<line x1="78.50" y1="1568.62" x2="81.80" y2="1568.62" stroke="#333" stroke-width="1" />
<text x="76.00" y="1737.52" font-size="21" fill="#3d3d3d" text-anchor="end">0.25</text>
<line x1="78.50" y1="1729.52" x2="81.80" y2="1729.52" stroke="#333" stroke-width="1" />
<text x="76.00" y="1898.43" font-size="21" fill="#3d3d3d" text-anchor="end">0.00</text>
<line x1="78.50" y1="1890.43" x2="81.80" y2="1890.43" stroke="#333" stroke-width="1" />
<text x="35.30" y="1556.09" font-size="21.3" fill="#000" text-anchor="middle" transform="rotate(-90.00 35.30 1556.09)">Relative Abundance</text>
<rect x="105.26" y="1247.82" width="90.73" height="1.05" fill="#E5201F" />
<rect x="105.26" y="1248.57" width="90.73" height="2.31" fill="#F6FF45" />
<rect x="105.26" y="1250.33" width="90.73" height="11.33" fill="#A6562B" />
<rect x="105.26" y="1261.35" width="90.73" height="24.86" fill="#F182C7" />
<rect x="105.26" y="1285.91" width="90.73" height="6.82" fill="#999999" />
<rect x="105.26" y="1292.43" width="90.73" height="272.98" fill="#ADD6E6" />
<rect x="105.26" y="1565.11" width="90.73" height="325.61" fill="#4682B8" />
<line x1="150.63" y1="1924.40" x2="150.63" y2="1928.00" stroke="#333" stroke-width="1" />
<rect x="219.05" y="1247.82" width="90.73" height="1.30" fill="#A6562B" />
<rect x="219.05" y="1248.82" width="90.73" height="1.30" fill="#F6FF45" />
<rect x="219.05" y="1249.82" width="90.73" height="1.30" fill="#A6562B" />
<rect x="219.05" y="1250.83" width="90.73" height="26.87" fill="#F182C7" />
<rect x="219.05" y="1277.39" width="90.73" height="377.74" fill="#ADD6E6" />
<rect x="219.05" y="1654.84" width="90.73" height="235.89" fill="#4682B8" />
<line x1="264.41" y1="1924.40" x2="264.41" y2="1928.00" stroke="#333" stroke-width="1" />
<rect x="333.33" y="1247.82" width="90.73" height="1.80" fill="#F07F22" />
<rect x="333.33" y="1249.32" width="90.73" height="4.81" fill="#F6FF45" />
<rect x="333.33" y="1253.83" width="90.73" height="14.84" fill="#A6562B" />
<rect x="333.33" y="1268.37" width="90.73" height="10.33" fill="#F182C7" />
<rect x="333.33" y="1278.40" width="90.73" height="7.82" fill="#999999" />
<rect x="333.33" y="1285.91" width="90.73" height="98.55" fill="#ADD6E6" />
<rect x="333.33" y="1384.16" width="90.73" height="506.57" fill="#4682B8" />
<line x1="378.70" y1="1924.40" x2="378.70" y2="1928.00" stroke="#333" stroke-width="1" />
<rect x="447.12" y="1247.82" width="90.73" height="1.80" fill="#F07F22" />
<rect x="447.12" y="1249.32" width="90.73" height="6.32" fill="#A6562B" />
<rect x="447.12" y="1255.34" width="90.73" height="11.33" fill="#F182C7" />
<rect x="447.12" y="1266.37" width="90.73" height="195.79" fill="#999999" />
<rect x="447.12" y="1461.85" width="90.73" height="77.99" fill="#ADD6E6" />
<rect x="447.12" y="1539.55" width="90.73" height="351.18" fill="#4682B8" />
<line x1="492.48" y1="1924.40" x2="492.48" y2="1928.00" stroke="#333" stroke-width="1" />
<rect x="574.30" y="1417.60" width="26.00" height="25.60" fill="#E5201F" />
<text x="609.50" y="1439.60" font-size="20.2" fill="#111" stroke="#111" stroke-width="0.3">Others</text>
<rect x="575.70" y="1458.00" width="26.00" height="25.60" fill="#4B84BA" />
<text x="609.50" y="1477.70" font-size="20.2" fill="#111" stroke="#111" stroke-width="0.3">Patescibacteria</text>
<rect x="575.70" y="1497.20" width="26.00" height="25.60" fill="#5EBB50" />
<text x="609.50" y="1515.80" font-size="20.2" fill="#111" stroke="#111" stroke-width="0.3">Bacteria</text>
<rect x="575.70" y="1535.60" width="26.00" height="25.60" fill="#8E4AA8" />
<text x="609.50" y="1553.90" font-size="20.2" fill="#111" stroke="#111" stroke-width="0.3">uncultured</text>
<rect x="575.70" y="1575.20" width="26.00" height="25.60" fill="#F07F22" />
<text x="609.50" y="1592.00" font-size="20.2" fill="#111" stroke="#111" stroke-width="0.3">Deferribacterota</text>
<rect x="575.70" y="1610.20" width="26.00" height="25.60" fill="#F6FF45" />
<text x="609.50" y="1630.10" font-size="20.2" fill="#111" stroke="#111" stroke-width="0.3">Proteobacteria</text>
<rect x="575.70" y="1650.80" width="26.00" height="25.60" fill="#A6562B" />
<text x="609.50" y="1668.20" font-size="20.2" fill="#111" stroke="#111" stroke-width="0.3">Desulfobacterota</text>
<rect x="575.70" y="1689.00" width="26.00" height="25.60" fill="#F182C7" />
<text x="609.50" y="1706.30" font-size="20.2" fill="#111" stroke="#111" stroke-width="0.3">Actinobacteriota</text>
<rect x="575.70" y="1723.40" width="26.00" height="25.60" fill="#999999" />
<text x="609.50" y="1744.40" font-size="20.2" fill="#111" stroke="#111" stroke-width="0.3">Verrucomicrobiota</text>
<rect x="575.70" y="1763.80" width="26.00" height="25.60" fill="#ADD6E6" />
<text x="609.50" y="1782.50" font-size="20.2" fill="#111" stroke="#111" stroke-width="0.3">Bacteroidota</text>
<rect x="574.30" y="1802.00" width="26.00" height="25.60" fill="#4682B8" />
<text x="609.50" y="1820.60" font-size="20.2" fill="#111" stroke="#111" stroke-width="0.3">Firmicutes</text>
<text x="121.80" y="1953.80" font-size="28" fill="#000" stroke="#000" stroke-width="0.75">Ctrl</text>
<text x="199.00" y="1953.80" font-size="28" fill="#000" stroke="#000" stroke-width="0.75">Ctrl+NIC</text>
<text x="324.80" y="1953.80" font-size="28" fill="#000" stroke="#000" stroke-width="0.75">CDAHFD</text>
<text x="448.60" y="1953.80" font-size="28" fill="#000" stroke="#000" stroke-width="0.75">CDAHFD+NIC</text>
</g>
<g id='pg'>
<text x="807.50" y="1164.50" font-size="51" fill="#000" class="sa" stroke="#000" stroke-width="0.4">g</text>
<rect x="917.40" y="1254.20" width="84.05" height="19.20" fill="#A1DE28" stroke="#8a8a8a" stroke-width="1" />
<rect x="1001.45" y="1254.20" width="84.05" height="19.20" fill="#F18A87" stroke="#8a8a8a" stroke-width="1" />
<rect x="1085.50" y="1254.20" width="84.05" height="19.20" fill="#E099FB" stroke="#8a8a8a" stroke-width="1" />
<rect x="1169.55" y="1254.20" width="84.05" height="19.20" fill="#6FF6E4" stroke="#8a8a8a" stroke-width="1" />
<rect x="917.60" y="1279.60" width="83.50" height="26.56" fill="#D23030" stroke="#858585" stroke-width="1.1" />
<rect x="1001.10" y="1279.60" width="83.50" height="26.56" fill="#6060B0" stroke="#858585" stroke-width="1.1" />
<rect x="1084.60" y="1279.60" width="83.50" height="26.56" fill="#F0F0F8" stroke="#858585" stroke-width="1.1" />
<rect x="1168.10" y="1279.60" width="83.50" height="26.56" fill="#BCBCE0" stroke="#858585" stroke-width="1.1" />
<text x="1258.80" y="1299.48" font-size="18.5" fill="#000" class="sa">Lachnospiraceae_NK4A136_group</text>
<rect x="917.60" y="1306.16" width="83.50" height="26.56" fill="#D23030" stroke="#858585" stroke-width="1.1" />
<rect x="1001.10" y="1306.16" width="83.50" height="26.56" fill="#6060B0" stroke="#858585" stroke-width="1.1" />
<rect x="1084.60" y="1306.16" width="83.50" height="26.56" fill="#DCDCEE" stroke="#858585" stroke-width="1.1" />
<rect x="1168.10" y="1306.16" width="83.50" height="26.56" fill="#D2D2EA" stroke="#858585" stroke-width="1.1" />
<text x="1258.80" y="1326.04" font-size="18.5" fill="#000" class="sa">Desulfovibrio</text>
<rect x="917.60" y="1332.72" width="83.50" height="26.56" fill="#D34048" stroke="#858585" stroke-width="1.1" />
<rect x="1001.10" y="1332.72" width="83.50" height="26.56" fill="#F0D8DA" stroke="#858585" stroke-width="1.1" />
<rect x="1084.60" y="1332.72" width="83.50" height="26.56" fill="#7674BC" stroke="#858585" stroke-width="1.1" />
<rect x="1168.10" y="1332.72" width="83.50" height="26.56" fill="#807EC0" stroke="#858585" stroke-width="1.1" />
<text x="1258.80" y="1352.60" font-size="18.5" fill="#000" class="sa">[Eubacterium]_coprostanoligenes_group</text>
<rect x="917.60" y="1359.28" width="83.50" height="26.56" fill="#D02B2B" stroke="#858585" stroke-width="1.1" />
<rect x="1001.10" y="1359.28" width="83.50" height="26.56" fill="#D2D2EA" stroke="#858585" stroke-width="1.1" />
<rect x="1084.60" y="1359.28" width="83.50" height="26.56" fill="#8A88C6" stroke="#858585" stroke-width="1.1" />
<rect x="1168.10" y="1359.28" width="83.50" height="26.56" fill="#A6A6D6" stroke="#858585" stroke-width="1.1" />
<text x="1258.80" y="1379.16" font-size="18.5" fill="#000" class="sa">Lactobacillus</text>
<rect x="917.60" y="1385.84" width="83.50" height="26.56" fill="#D23030" stroke="#858585" stroke-width="1.1" />
<rect x="1001.10" y="1385.84" width="83.50" height="26.56" fill="#E6E6F4" stroke="#858585" stroke-width="1.1" />
<rect x="1084.60" y="1385.84" width="83.50" height="26.56" fill="#5F5EB0" stroke="#858585" stroke-width="1.1" />
<rect x="1168.10" y="1385.84" width="83.50" height="26.56" fill="#BCBCE0" stroke="#858585" stroke-width="1.1" />
<text x="1258.80" y="1405.72" font-size="18.5" fill="#000" class="sa">Alistipes</text>
<rect x="917.60" y="1412.40" width="83.50" height="26.56" fill="#B0B0DC" stroke="#858585" stroke-width="1.1" />
<rect x="1001.10" y="1412.40" width="83.50" height="26.56" fill="#D02B2B" stroke="#858585" stroke-width="1.1" />
<rect x="1084.60" y="1412.40" width="83.50" height="26.56" fill="#9E9ED2" stroke="#858585" stroke-width="1.1" />
<rect x="1168.10" y="1412.40" width="83.50" height="26.56" fill="#A6A6D6" stroke="#858585" stroke-width="1.1" />
<text x="1258.80" y="1432.28" font-size="18.5" fill="#000" class="sa">Alloprevotella</text>
<rect x="917.60" y="1438.96" width="83.50" height="26.56" fill="#A6A6D6" stroke="#858585" stroke-width="1.1" />
<rect x="1001.10" y="1438.96" width="83.50" height="26.56" fill="#D02B2B" stroke="#858585" stroke-width="1.1" />
<rect x="1084.60" y="1438.96" width="83.50" height="26.56" fill="#A6A6D6" stroke="#858585" stroke-width="1.1" />
<rect x="1168.10" y="1438.96" width="83.50" height="26.56" fill="#A6A6D6" stroke="#858585" stroke-width="1.1" />
<text x="1258.80" y="1458.84" font-size="18.5" fill="#000" class="sa">Allobaculum</text>
<rect x="917.60" y="1465.52" width="83.50" height="26.56" fill="#E4E4F4" stroke="#858585" stroke-width="1.1" />
<rect x="1001.10" y="1465.52" width="83.50" height="26.56" fill="#D23030" stroke="#858585" stroke-width="1.1" />
<rect x="1084.60" y="1465.52" width="83.50" height="26.56" fill="#6E6CB8" stroke="#858585" stroke-width="1.1" />
<rect x="1168.10" y="1465.52" width="83.50" height="26.56" fill="#B0B0DC" stroke="#858585" stroke-width="1.1" />
<text x="1258.80" y="1485.40" font-size="18.5" fill="#000" class="sa">Dubosiella</text>
<rect x="917.60" y="1492.08" width="83.50" height="26.56" fill="#E2E4F4" stroke="#858585" stroke-width="1.1" />
<rect x="1001.10" y="1492.08" width="83.50" height="26.56" fill="#D02B2B" stroke="#858585" stroke-width="1.1" />
<rect x="1084.60" y="1492.08" width="83.50" height="26.56" fill="#9492CC" stroke="#858585" stroke-width="1.1" />
<rect x="1168.10" y="1492.08" width="83.50" height="26.56" fill="#8A88C6" stroke="#858585" stroke-width="1.1" />
<text x="1258.80" y="1511.96" font-size="18.5" fill="#000" class="sa">Turicibacter</text>
<rect x="917.60" y="1518.64" width="83.50" height="26.56" fill="#E09CA2" stroke="#858585" stroke-width="1.1" />
<rect x="1001.10" y="1518.64" width="83.50" height="26.56" fill="#D66068" stroke="#858585" stroke-width="1.1" />
<rect x="1084.60" y="1518.64" width="83.50" height="26.56" fill="#7672BC" stroke="#858585" stroke-width="1.1" />
<rect x="1168.10" y="1518.64" width="83.50" height="26.56" fill="#6E6AB6" stroke="#858585" stroke-width="1.1" />
<text x="1258.80" y="1538.52" font-size="18.5" fill="#000" class="sa">Muribaculaceae</text>
<rect x="917.60" y="1545.20" width="83.50" height="26.56" fill="#DC8088" stroke="#858585" stroke-width="1.1" />
<rect x="1001.10" y="1545.20" width="83.50" height="26.56" fill="#DA7078" stroke="#858585" stroke-width="1.1" />
<rect x="1084.60" y="1545.20" width="83.50" height="26.56" fill="#6E6AB6" stroke="#858585" stroke-width="1.1" />
<rect x="1168.10" y="1545.20" width="83.50" height="26.56" fill="#6E6AB6" stroke="#858585" stroke-width="1.1" />
<text x="1258.80" y="1565.08" font-size="18.5" fill="#000" class="sa">Bifidobacterium</text>
<rect x="917.60" y="1571.76" width="83.50" height="26.56" fill="#D66068" stroke="#858585" stroke-width="1.1" />
<rect x="1001.10" y="1571.76" width="83.50" height="26.56" fill="#E09CA2" stroke="#858585" stroke-width="1.1" />
<rect x="1084.60" y="1571.76" width="83.50" height="26.56" fill="#6E6AB6" stroke="#858585" stroke-width="1.1" />
<rect x="1168.10" y="1571.76" width="83.50" height="26.56" fill="#7672BC" stroke="#858585" stroke-width="1.1" />
<text x="1258.80" y="1591.64" font-size="18.5" fill="#000" class="sa">Clostridia_UCG−014</text>
<rect x="917.60" y="1598.32" width="83.50" height="26.56" fill="#D8686E" stroke="#858585" stroke-width="1.1" />
<rect x="1001.10" y="1598.32" width="83.50" height="26.56" fill="#DC8088" stroke="#858585" stroke-width="1.1" />
<rect x="1084.60" y="1598.32" width="83.50" height="26.56" fill="#807CC0" stroke="#858585" stroke-width="1.1" />
<rect x="1168.10" y="1598.32" width="83.50" height="26.56" fill="#5F5EB0" stroke="#858585" stroke-width="1.1" />
<text x="1258.80" y="1618.20" font-size="18.5" fill="#000" class="sa">Enterorhabdus</text>
<rect x="917.60" y="1624.88" width="83.50" height="26.56" fill="#EED0D2" stroke="#858585" stroke-width="1.1" />
<rect x="1001.10" y="1624.88" width="83.50" height="26.56" fill="#5554AC" stroke="#858585" stroke-width="1.1" />
<rect x="1084.60" y="1624.88" width="83.50" height="26.56" fill="#D3444C" stroke="#858585" stroke-width="1.1" />
<rect x="1168.10" y="1624.88" width="83.50" height="26.56" fill="#9E9ED2" stroke="#858585" stroke-width="1.1" />
<text x="1258.80" y="1644.76" font-size="18.5" fill="#000" class="sa">Odoribacter</text>
<rect x="917.60" y="1651.44" width="83.50" height="26.56" fill="#B0B0DC" stroke="#858585" stroke-width="1.1" />
<rect x="1001.10" y="1651.44" width="83.50" height="26.56" fill="#9E9ED2" stroke="#858585" stroke-width="1.1" />
<rect x="1084.60" y="1651.44" width="83.50" height="26.56" fill="#D02B2B" stroke="#858585" stroke-width="1.1" />
<rect x="1168.10" y="1651.44" width="83.50" height="26.56" fill="#A6A6D6" stroke="#858585" stroke-width="1.1" />
<text x="1258.80" y="1671.32" font-size="18.5" fill="#000" class="sa">Muribaculum</text>
<rect x="917.60" y="1678.00" width="83.50" height="26.56" fill="#A6A6D6" stroke="#858585" stroke-width="1.1" />
<rect x="1001.10" y="1678.00" width="83.50" height="26.56" fill="#A6A6D6" stroke="#858585" stroke-width="1.1" />
<rect x="1084.60" y="1678.00" width="83.50" height="26.56" fill="#D02B2B" stroke="#858585" stroke-width="1.1" />
<rect x="1168.10" y="1678.00" width="83.50" height="26.56" fill="#B0B0DC" stroke="#858585" stroke-width="1.1" />
<text x="1258.80" y="1697.88" font-size="18.5" fill="#000" class="sa">Acetatifactor</text>
<rect x="917.60" y="1704.56" width="83.50" height="26.56" fill="#A6A6D6" stroke="#858585" stroke-width="1.1" />
<rect x="1001.10" y="1704.56" width="83.50" height="26.56" fill="#A6A6D6" stroke="#858585" stroke-width="1.1" />
<rect x="1084.60" y="1704.56" width="83.50" height="26.56" fill="#D02B2B" stroke="#858585" stroke-width="1.1" />
<rect x="1168.10" y="1704.56" width="83.50" height="26.56" fill="#B0B0DC" stroke="#858585" stroke-width="1.1" />
<text x="1258.80" y="1724.44" font-size="18.5" fill="#000" class="sa">Roseburia</text>
<rect x="917.60" y="1731.12" width="83.50" height="26.56" fill="#9492CC" stroke="#858585" stroke-width="1.1" />
<rect x="1001.10" y="1731.12" width="83.50" height="26.56" fill="#9E9ED2" stroke="#858585" stroke-width="1.1" />
<rect x="1084.60" y="1731.12" width="83.50" height="26.56" fill="#D02B2B" stroke="#858585" stroke-width="1.1" />
<rect x="1168.10" y="1731.12" width="83.50" height="26.56" fill="#DCDCEE" stroke="#858585" stroke-width="1.1" />
<text x="1258.80" y="1751.00" font-size="18.5" fill="#000" class="sa">Bilophila</text>
<rect x="917.60" y="1757.68" width="83.50" height="26.56" fill="#8A88C6" stroke="#858585" stroke-width="1.1" />
<rect x="1001.10" y="1757.68" width="83.50" height="26.56" fill="#8A88C6" stroke="#858585" stroke-width="1.1" />
<rect x="1084.60" y="1757.68" width="83.50" height="26.56" fill="#D23030" stroke="#858585" stroke-width="1.1" />
<rect x="1168.10" y="1757.68" width="83.50" height="26.56" fill="#EEEEF8" stroke="#858585" stroke-width="1.1" />
<text x="1258.80" y="1777.56" font-size="18.5" fill="#000" class="sa">Blautia</text>
<rect x="917.60" y="1784.24" width="83.50" height="26.56" fill="#9492CC" stroke="#858585" stroke-width="1.1" />
<rect x="1001.10" y="1784.24" width="83.50" height="26.56" fill="#7674BC" stroke="#858585" stroke-width="1.1" />
<rect x="1084.60" y="1784.24" width="83.50" height="26.56" fill="#D23030" stroke="#858585" stroke-width="1.1" />
<rect x="1168.10" y="1784.24" width="83.50" height="26.56" fill="#FAFAFA" stroke="#858585" stroke-width="1.1" />
<text x="1258.80" y="1804.12" font-size="18.5" fill="#000" class="sa">Oscillibacter</text>
<rect x="917.60" y="1810.80" width="83.50" height="26.56" fill="#A6A6D6" stroke="#858585" stroke-width="1.1" />
<rect x="1001.10" y="1810.80" width="83.50" height="26.56" fill="#9E9ED2" stroke="#858585" stroke-width="1.1" />
<rect x="1084.60" y="1810.80" width="83.50" height="26.56" fill="#B0B0DC" stroke="#858585" stroke-width="1.1" />
<rect x="1168.10" y="1810.80" width="83.50" height="26.56" fill="#D02B2B" stroke="#858585" stroke-width="1.1" />
<text x="1258.80" y="1830.68" font-size="18.5" fill="#000" class="sa">Akkermansia</text>
<rect x="917.60" y="1837.36" width="83.50" height="26.56" fill="#807EC2" stroke="#858585" stroke-width="1.1" />
<rect x="1001.10" y="1837.36" width="83.50" height="26.56" fill="#FAFAFC" stroke="#858585" stroke-width="1.1" />
<rect x="1084.60" y="1837.36" width="83.50" height="26.56" fill="#8A88C6" stroke="#858585" stroke-width="1.1" />
<rect x="1168.10" y="1837.36" width="83.50" height="26.56" fill="#D3343A" stroke="#858585" stroke-width="1.1" />
<text x="1258.80" y="1857.24" font-size="18.5" fill="#E8191F" class="sa">Erysipelatoclostridium</text>
<rect x="917.60" y="1863.92" width="83.50" height="26.56" fill="#8A88C6" stroke="#858585" stroke-width="1.1" />
<rect x="1001.10" y="1863.92" width="83.50" height="26.56" fill="#5554AC" stroke="#858585" stroke-width="1.1" />
<rect x="1084.60" y="1863.92" width="83.50" height="26.56" fill="#D6585E" stroke="#858585" stroke-width="1.1" />
<rect x="1168.10" y="1863.92" width="83.50" height="26.56" fill="#E6B0B4" stroke="#858585" stroke-width="1.1" />
<text x="1258.80" y="1883.80" font-size="18.5" fill="#000" class="sa">Parabacteroides</text>
<rect x="917.60" y="1890.48" width="83.50" height="26.56" fill="#5F5EB0" stroke="#858585" stroke-width="1.1" />
<rect x="1001.10" y="1890.48" width="83.50" height="26.56" fill="#807CC0" stroke="#858585" stroke-width="1.1" />
<rect x="1084.60" y="1890.48" width="83.50" height="26.56" fill="#D5505A" stroke="#858585" stroke-width="1.1" />
<rect x="1168.10" y="1890.48" width="83.50" height="26.56" fill="#E8B8BC" stroke="#858585" stroke-width="1.1" />
<text x="1258.80" y="1910.36" font-size="18.5" fill="#000" class="sa">Ileibacterium</text>
<rect x="917.60" y="1917.04" width="83.50" height="26.56" fill="#7672BC" stroke="#858585" stroke-width="1.1" />
<rect x="1001.10" y="1917.04" width="83.50" height="26.56" fill="#807CC0" stroke="#858585" stroke-width="1.1" />
<rect x="1084.60" y="1917.04" width="83.50" height="26.56" fill="#D3444C" stroke="#858585" stroke-width="1.1" />
<rect x="1168.10" y="1917.04" width="83.50" height="26.56" fill="#EED4D6" stroke="#858585" stroke-width="1.1" />
<text x="1258.80" y="1936.92" font-size="18.5" fill="#000" class="sa">uncultured</text>
<rect x="917.60" y="1943.60" width="83.50" height="26.56" fill="#7672BC" stroke="#858585" stroke-width="1.1" />
<rect x="1001.10" y="1943.60" width="83.50" height="26.56" fill="#6E6AB6" stroke="#858585" stroke-width="1.1" />
<rect x="1084.60" y="1943.60" width="83.50" height="26.56" fill="#DC8088" stroke="#858585" stroke-width="1.1" />
<rect x="1168.10" y="1943.60" width="83.50" height="26.56" fill="#DA7078" stroke="#858585" stroke-width="1.1" />
<text x="1258.80" y="1963.48" font-size="18.5" fill="#000" class="sa">Colidextribacter</text>
<rect x="917.60" y="1970.16" width="83.50" height="26.56" fill="#6E6AB6" stroke="#858585" stroke-width="1.1" />
<rect x="1001.10" y="1970.16" width="83.50" height="26.56" fill="#6E6AB6" stroke="#858585" stroke-width="1.1" />
<rect x="1084.60" y="1970.16" width="83.50" height="26.56" fill="#DC8088" stroke="#858585" stroke-width="1.1" />
<rect x="1168.10" y="1970.16" width="83.50" height="26.56" fill="#DA7078" stroke="#858585" stroke-width="1.1" />
<text x="1258.80" y="1990.04" font-size="18.5" fill="#000" class="sa">Romboutsia</text>
<rect x="917.60" y="1996.72" width="83.50" height="26.56" fill="#8A88C6" stroke="#858585" stroke-width="1.1" />
<rect x="1001.10" y="1996.72" width="83.50" height="26.56" fill="#7674BC" stroke="#858585" stroke-width="1.1" />
<rect x="1084.60" y="1996.72" width="83.50" height="26.56" fill="#F4E8E8" stroke="#858585" stroke-width="1.1" />
<rect x="1168.10" y="1996.72" width="83.50" height="26.56" fill="#D3343A" stroke="#858585" stroke-width="1.1" />
<text x="1258.80" y="2016.60" font-size="18.5" fill="#000" class="sa">Clostridium_sensu_stricto_1</text>
<rect x="917.60" y="2023.28" width="83.50" height="26.56" fill="#9E9ED2" stroke="#858585" stroke-width="1.1" />
<rect x="1001.10" y="2023.28" width="83.50" height="26.56" fill="#4C4AA6" stroke="#858585" stroke-width="1.1" />
<rect x="1084.60" y="2023.28" width="83.50" height="26.56" fill="#ECC4C8" stroke="#858585" stroke-width="1.1" />
<rect x="1168.10" y="2023.28" width="83.50" height="26.56" fill="#D3444C" stroke="#858585" stroke-width="1.1" />
<text x="1258.80" y="2043.16" font-size="18.5" fill="#000" class="sa">Faecalibaculum</text>
<rect x="917.60" y="2049.84" width="83.50" height="26.56" fill="#807CC0" stroke="#858585" stroke-width="1.1" />
<rect x="1001.10" y="2049.84" width="83.50" height="26.56" fill="#6E6AB6" stroke="#858585" stroke-width="1.1" />
<rect x="1084.60" y="2049.84" width="83.50" height="26.56" fill="#E8B8BC" stroke="#858585" stroke-width="1.1" />
<rect x="1168.10" y="2049.84" width="83.50" height="26.56" fill="#D3444C" stroke="#858585" stroke-width="1.1" />
<text x="1258.80" y="2069.72" font-size="18.5" fill="#000" class="sa">Coriobacteriaceae_UCG−002</text>
<text x="956.30" y="1249.70" font-size="22.6" fill="#000" transform="rotate(-23.60 956.30 1249.70)" stroke="#000" stroke-width="0.2">Ctrl</text>
<text x="1037.00" y="1244.40" font-size="22.6" fill="#000" transform="rotate(-23.60 1037.00 1244.40)" stroke="#000" stroke-width="0.2">Ctrl+NIC</text>
<text x="1124.80" y="1242.80" font-size="22.6" fill="#000" transform="rotate(-23.60 1124.80 1242.80)" stroke="#000" stroke-width="0.2">CDAHFD</text>
<text x="1206.30" y="1249.70" font-size="22.6" fill="#000" transform="rotate(-23.60 1206.30 1249.70)" stroke="#000" stroke-width="0.2">CDAHFD+NIC</text>
<defs><linearGradient id="cb" x1="0" y1="0" x2="0" y2="1"><stop offset="0" stop-color="#D42A2C"/><stop offset="0.5" stop-color="#FFFFFF"/><stop offset="1" stop-color="#08088A"/></linearGradient></defs>
<rect x="1607.70" y="1252.10" width="19.10" height="292.00" fill="url(#cb)" />
<text x="1634.60" y="1308.00" font-size="18.5" fill="#000" class="sa">1</text>
<text x="1634.60" y="1356.20" font-size="18.5" fill="#000" class="sa">0.5</text>
<text x="1634.60" y="1404.60" font-size="18.5" fill="#000" class="sa">0</text>
<text x="1634.60" y="1453.90" font-size="18.5" fill="#000" class="sa">−0.5</text>
<text x="1634.60" y="1502.30" font-size="18.5" fill="#000" class="sa">−1</text>
<path d="M917.8,1292.9H913.8M917.8,1319.4H913.8M913.8,1292.9V1319.4M917.8,1372.6H910.0M917.8,1399.1H910.0M910.0,1372.6V1399.1M917.8,1346.0H901.1M910.0,1385.8H901.1M901.1,1346.0V1385.8M913.8,1306.2H877.2M901.1,1365.9H877.2M877.2,1306.2V1365.9M917.8,1425.7H915.8M917.8,1452.2H915.8M915.8,1425.7V1452.2M917.8,1478.8H909.4M917.8,1505.4H909.4M909.4,1478.8V1505.4M915.8,1439.0H903.1M909.4,1492.1H903.1M903.1,1439.0V1492.1M917.8,1531.9H911.5M917.8,1558.5H911.5M911.5,1531.9V1558.5M917.8,1585.0H910.9M917.8,1611.6H910.9M910.9,1585.0V1611.6M911.5,1545.2H899.6M910.9,1598.3H899.6M899.6,1545.2V1598.3M903.1,1465.5H864.5M899.6,1571.8H864.5M864.5,1465.5V1571.8M877.2,1336.0H829.3M864.5,1518.6H829.3M829.3,1336.0V1518.6M917.8,1691.3H916.6M917.8,1717.8H916.6M916.6,1691.3V1717.8M917.8,1664.7H914.3M916.6,1704.6H914.3M914.3,1664.7V1704.6M917.8,1771.0H913.2M917.8,1797.5H913.2M913.2,1771.0V1797.5M917.8,1744.4H909.4M913.2,1784.2H909.4M909.4,1744.4V1784.2M914.3,1684.6H901.1M909.4,1764.3H901.1M901.1,1684.6V1764.3M917.8,1638.2H884.4M901.1,1724.5H884.4M884.4,1638.2V1724.5M917.8,1824.1H900.8M917.8,1850.6H900.8M900.8,1824.1V1850.6M917.8,1903.8H910.0M917.8,1930.3H910.0M910.0,1903.8V1930.3M917.8,1877.2H905.7M910.0,1917.0H905.7M905.7,1877.2V1917.0M917.8,1956.9H916.1M917.8,1983.4H916.1M916.1,1956.9V1983.4M917.8,2036.6H910.0M917.8,2063.1H910.0M910.0,2036.6V2063.1M917.8,2010.0H906.6M910.0,2049.8H906.6M906.6,2010.0V2049.8M916.1,1970.2H895.3M906.6,2029.9H895.3M895.3,1970.2V2029.9M905.7,1897.1H871.4M895.3,2000.0H871.4M871.4,1897.1V2000.0M900.8,1837.4H848.9M871.4,1948.6H848.9M848.9,1837.4V1948.6M884.4,1681.3H829.3M848.9,1893.0H829.3M829.3,1681.3V1893.0M829.3,1427.3H819.5M829.3,1787.1H819.5M819.5,1427.3V1787.1" fill="none" stroke="#000" stroke-width="1.25" stroke-linecap="square"/>
</g>
<g id='ph'>
<text x="10.00" y="2087.00" font-size="51" fill="#000" class="sa" stroke="#000" stroke-width="0.4">h</text>
<path d="M262.80,2489.64A196.80,196.80 0 1 0 144.19,2184.62L268.13,2271.40A45.50,45.50 0 1 1 295.55,2341.92Z" fill="#E81C2E" fill-opacity="0.245"/>
<path d="M295.22,2131.11A166.70,166.70 0 0 0 168.85,2201.88L230.53,2245.08A91.40,91.40 0 0 1 299.82,2206.27Z" fill="#E81C2E" fill-opacity="0.12"/>
<path d="M273.59,2133.86A166.70,166.70 0 0 0 168.85,2201.88L230.53,2245.08A91.40,91.40 0 0 1 287.96,2207.78Z" fill="#E81C2E" fill-opacity="0.13"/>
<path d="M296.14,2146.08A151.70,151.70 0 0 0 181.13,2210.49L212.43,2232.40A113.50,113.50 0 0 1 298.47,2184.21Z" fill="#E81C2E" fill-opacity="0.21"/>
<path d="M276.45,2148.59A151.70,151.70 0 0 0 231.85,2164.82L250.37,2198.23A113.50,113.50 0 0 1 283.74,2186.09Z" fill="#E81C2E" fill-opacity="0.45"/>
<path d="M169.42,2202.29A166.00,166.00 0 0 0 147.35,2246.75L218.76,2269.68A91.00,91.00 0 0 1 230.86,2245.30Z" fill="#E81C2E" fill-opacity="0.245"/>
<path d="M181.13,2210.49A151.70,151.70 0 0 0 161.12,2250.62L197.93,2262.58A113.00,113.00 0 0 1 212.84,2232.69Z" fill="#E81C2E" fill-opacity="0.21"/>
<path d="M333.71,2476.27A181.00,181.00 0 0 0 410.76,2444.67L346.73,2355.23A71.00,71.00 0 0 1 316.51,2367.63Z" fill="#E81C2E" fill-opacity="0.23"/>
<path d="M269.99,2445.01A151.70,151.70 0 0 0 330.44,2447.12L324.20,2409.84A113.90,113.90 0 0 1 278.81,2408.25Z" fill="#E81C2E" fill-opacity="0.22"/>
<path d="M154.19,2302.78A151.30,151.30 0 0 0 165.62,2355.40L201.46,2340.55A112.50,112.50 0 0 1 192.97,2301.43Z" fill="#E81C2E" fill-opacity="0.245"/>
<path d="M453.29,2218.86A167.50,167.50 0 0 0 332.76,2132.25L320.34,2207.23A91.50,91.50 0 0 1 386.19,2254.54Z" fill="#16820B" fill-opacity="0.17"/>
<path d="M374.88,2162.31A152.00,152.00 0 0 0 331.79,2147.81L325.28,2184.74A114.50,114.50 0 0 1 357.74,2195.66Z" fill="#16820B" fill-opacity="0.17"/>
<path d="M411.37,2188.53A152.00,152.00 0 0 0 374.88,2162.31L357.74,2195.66A114.50,114.50 0 0 1 385.23,2215.41Z" fill="#16820B" fill-opacity="0.18000000000000002"/>
<path d="M457.63,2285.52A152.70,152.70 0 0 0 426.22,2204.12L395.60,2227.79A114.00,114.00 0 0 1 419.05,2288.56Z" fill="#16820B" fill-opacity="0.17"/>
<line x1="427.13" y1="2359.26" x2="463.57" y2="2379.14" stroke="#8DB58D" stroke-width="1.0" />
<path d="M350.73,2293.61A45.50,45.50 0 1 0 346.05,2317.94" fill="none" stroke="#000" stroke-width="2.9"/>
<path d="M314.76,2229.14A69.00,69.00 0 0 0 243.23,2327.42" fill="none" stroke="#000" stroke-width="2.9"/>
<path d="M372.38,2235.90A91.00,91.00 0 0 0 264.37,2216.27" fill="none" stroke="#000" stroke-width="2.9"/>
<path d="M357.46,2196.64A113.50,113.50 0 0 0 293.54,2184.62" fill="none" stroke="#000" stroke-width="2.9"/>
<path d="M217.03,2275.79A91.00,91.00 0 0 0 249.63,2369.40" fill="none" stroke="#000" stroke-width="2.9"/>
<path d="M199.02,2337.06A113.50,113.50 0 0 0 268.26,2404.75" fill="none" stroke="#000" stroke-width="2.9"/>
<path d="M316.91,2365.53A69.00,69.00 0 0 0 344.88,2354.09" fill="none" stroke="#000" stroke-width="2.9"/>
<line x1="282.70" y1="2297.50" x2="259.90" y2="2297.50" stroke="#000" stroke-width="0.9" />
<line x1="265.49" y1="2275.65" x2="244.88" y2="2264.36" stroke="#000" stroke-width="0.9" />
<line x1="314.76" y1="2229.14" x2="313.65" y2="2206.87" stroke="#000" stroke-width="0.9" />
<line x1="313.65" y1="2206.87" x2="315.69" y2="2184.47" stroke="#000" stroke-width="0.9" />
<line x1="293.54" y1="2184.62" x2="291.61" y2="2161.70" stroke="#000" stroke-width="0.9" />
<line x1="372.38" y1="2235.90" x2="391.45" y2="2223.49" stroke="#000" stroke-width="0.9" />
<line x1="243.23" y1="2327.42" x2="222.59" y2="2335.24" stroke="#000" stroke-width="0.9" />
<line x1="249.63" y1="2369.40" x2="235.99" y2="2387.30" stroke="#000" stroke-width="0.9" />
<line x1="225.71" y1="2378.31" x2="203.17" y2="2387.95" stroke="#000" stroke-width="0.9" />
<line x1="225.71" y1="2378.31" x2="219.13" y2="2403.28" stroke="#000" stroke-width="0.9" />
<line x1="268.26" y1="2404.75" x2="252.72" y2="2423.43" stroke="#000" stroke-width="0.9" />
<line x1="268.26" y1="2404.75" x2="274.23" y2="2430.39" stroke="#000" stroke-width="0.9" />
<line x1="350.73" y1="2293.61" x2="374.12" y2="2291.25" stroke="#000" stroke-width="0.9" />
<line x1="374.12" y1="2291.25" x2="396.07" y2="2289.73" stroke="#000" stroke-width="0.9" />
<line x1="396.07" y1="2289.73" x2="418.53" y2="2288.40" stroke="#000" stroke-width="0.9" />
<line x1="329.78" y1="2335.92" x2="344.88" y2="2354.09" stroke="#000" stroke-width="0.9" />
<line x1="316.91" y1="2365.53" x2="321.36" y2="2387.09" stroke="#000" stroke-width="0.9" />
<line x1="321.36" y1="2387.09" x2="325.11" y2="2409.28" stroke="#000" stroke-width="0.9" />
<line x1="344.88" y1="2354.09" x2="358.11" y2="2371.68" stroke="#000" stroke-width="0.9" />
<line x1="358.11" y1="2371.68" x2="370.50" y2="2390.47" stroke="#000" stroke-width="0.9" />
<line x1="370.50" y1="2390.47" x2="383.69" y2="2409.31" stroke="#000" stroke-width="0.9" />
<line x1="264.37" y1="2216.27" x2="254.93" y2="2195.84" stroke="#3a0a0a" stroke-width="4.0" stroke-linecap="butt"/>
<line x1="264.37" y1="2216.27" x2="254.93" y2="2195.84" stroke="#FF2A1C" stroke-width="3.0" />
<line x1="254.93" y1="2195.84" x2="243.43" y2="2175.88" stroke="#3a0a0a" stroke-width="4.0" stroke-linecap="butt"/>
<line x1="254.93" y1="2195.84" x2="243.43" y2="2175.88" stroke="#FF2A1C" stroke-width="3.0" />
<line x1="217.03" y1="2275.79" x2="196.03" y2="2267.17" stroke="#3a0a0a" stroke-width="4.6" stroke-linecap="butt"/>
<line x1="217.03" y1="2275.79" x2="196.03" y2="2267.17" stroke="#FF2A1C" stroke-width="3.6" />
<line x1="196.03" y1="2267.17" x2="191.05" y2="2222.96" stroke="#3a0a0a" stroke-width="4.0" stroke-linecap="butt"/>
<line x1="196.03" y1="2267.17" x2="191.05" y2="2222.96" stroke="#FF2A1C" stroke-width="3.0" />
<line x1="196.03" y1="2267.17" x2="180.51" y2="2242.42" stroke="#3a0a0a" stroke-width="4.0" stroke-linecap="butt"/>
<line x1="196.03" y1="2267.17" x2="180.51" y2="2242.42" stroke="#FF2A1C" stroke-width="3.0" />
<line x1="196.03" y1="2267.17" x2="173.61" y2="2261.94" stroke="#3a0a0a" stroke-width="4.0" stroke-linecap="butt"/>
<line x1="196.03" y1="2267.17" x2="173.61" y2="2261.94" stroke="#FF2A1C" stroke-width="3.0" />
<line x1="196.03" y1="2267.17" x2="169.53" y2="2284.42" stroke="#3a0a0a" stroke-width="4.0" stroke-linecap="butt"/>
<line x1="196.03" y1="2267.17" x2="169.53" y2="2284.42" stroke="#FF2A1C" stroke-width="3.0" />
<line x1="196.03" y1="2267.17" x2="169.14" y2="2305.60" stroke="#3a0a0a" stroke-width="4.0" stroke-linecap="butt"/>
<line x1="196.03" y1="2267.17" x2="169.14" y2="2305.60" stroke="#FF2A1C" stroke-width="3.0" />
<line x1="199.02" y1="2337.06" x2="177.63" y2="2345.53" stroke="#3a0a0a" stroke-width="4.0" stroke-linecap="butt"/>
<line x1="199.02" y1="2337.06" x2="177.63" y2="2345.53" stroke="#FF2A1C" stroke-width="3.0" />
<line x1="418.53" y1="2288.40" x2="441.42" y2="2286.08" stroke="#3a0a0a" stroke-width="4.0" stroke-linecap="butt"/>
<line x1="418.53" y1="2288.40" x2="441.42" y2="2286.08" stroke="#FF2A1C" stroke-width="3.0" />
<line x1="325.11" y1="2409.28" x2="329.10" y2="2431.93" stroke="#3a0a0a" stroke-width="4.0" stroke-linecap="butt"/>
<line x1="325.11" y1="2409.28" x2="329.10" y2="2431.93" stroke="#FF2A1C" stroke-width="3.0" />
<line x1="326.28" y1="2185.94" x2="332.15" y2="2163.65" stroke="#0d3d0d" stroke-width="4.6" stroke-linecap="butt"/>
<line x1="326.28" y1="2185.94" x2="332.15" y2="2163.65" stroke="#258C25" stroke-width="3.6" />
<line x1="357.46" y1="2196.64" x2="367.37" y2="2175.88" stroke="#0d3d0d" stroke-width="4.0" stroke-linecap="butt"/>
<line x1="357.46" y1="2196.64" x2="367.37" y2="2175.88" stroke="#258C25" stroke-width="3.0" />
<line x1="391.45" y1="2223.49" x2="399.71" y2="2198.81" stroke="#0d3d0d" stroke-width="4.0" stroke-linecap="butt"/>
<line x1="391.45" y1="2223.49" x2="399.71" y2="2198.81" stroke="#258C25" stroke-width="3.0" />
<line x1="391.45" y1="2223.49" x2="414.56" y2="2215.54" stroke="#0d3d0d" stroke-width="4.0" stroke-linecap="butt"/>
<line x1="391.45" y1="2223.49" x2="414.56" y2="2215.54" stroke="#258C25" stroke-width="3.0" />
<line x1="346.05" y1="2317.94" x2="367.04" y2="2328.50" stroke="#0d3d0d" stroke-width="5.4" stroke-linecap="butt"/>
<line x1="346.05" y1="2317.94" x2="367.04" y2="2328.50" stroke="#258C25" stroke-width="4.4" />
<line x1="367.04" y1="2328.50" x2="386.70" y2="2338.39" stroke="#0d3d0d" stroke-width="5.4" stroke-linecap="butt"/>
<line x1="367.04" y1="2328.50" x2="386.70" y2="2338.39" stroke="#258C25" stroke-width="4.4" />
<line x1="386.70" y1="2338.39" x2="406.80" y2="2348.50" stroke="#0d3d0d" stroke-width="5.4" stroke-linecap="butt"/>
<line x1="386.70" y1="2338.39" x2="406.80" y2="2348.50" stroke="#258C25" stroke-width="4.4" />
<line x1="406.80" y1="2348.50" x2="427.35" y2="2358.83" stroke="#0d3d0d" stroke-width="5.4" stroke-linecap="butt"/>
<line x1="406.80" y1="2348.50" x2="427.35" y2="2358.83" stroke="#258C25" stroke-width="4.4" />
<rect x="287.81" y="2157.90" width="7.60" height="7.60" fill="#000" />
<rect x="173.83" y="2341.73" width="7.60" height="7.60" fill="#000" />
<rect x="270.43" y="2426.59" width="7.60" height="7.60" fill="#000" />
<rect x="325.30" y="2428.13" width="7.60" height="7.60" fill="#000" />
<circle cx="282.70" cy="2297.50" r="7.10" fill="#C6D42E" stroke="#4a520c" stroke-width="1.0" />
<circle cx="265.49" cy="2275.65" r="6.60" fill="#FF2A1C" stroke="#3a0404" stroke-width="1.0" />
<circle cx="350.73" cy="2293.61" r="5.30" fill="#C6D42E" stroke="#4a520c" stroke-width="1.0" />
<circle cx="329.78" cy="2335.92" r="4.80" fill="#C6D42E" stroke="#4a520c" stroke-width="1.0" />
<circle cx="314.76" cy="2229.14" r="4.60" fill="#C6D42E" stroke="#4a520c" stroke-width="1.0" />
<circle cx="243.23" cy="2327.42" r="6.60" fill="#C6D42E" stroke="#4a520c" stroke-width="1.0" />
<circle cx="264.37" cy="2216.27" r="4.50" fill="#FF2A1C" stroke="#3a0404" stroke-width="1.0" />
<circle cx="313.65" cy="2206.87" r="5.70" fill="#258C25" stroke="#0c3a0c" stroke-width="1.0" />
<circle cx="372.38" cy="2235.90" r="4.80" fill="#C6D42E" stroke="#4a520c" stroke-width="1.0" />
<circle cx="293.54" cy="2184.62" r="3.40" fill="#C6D42E" stroke="#4a520c" stroke-width="1.0" />
<circle cx="326.28" cy="2185.94" r="6.00" fill="#258C25" stroke="#0c3a0c" stroke-width="1.0" />
<circle cx="357.46" cy="2196.64" r="4.30" fill="#258C25" stroke="#0c3a0c" stroke-width="1.0" />
<circle cx="332.15" cy="2163.65" r="6.00" fill="#258C25" stroke="#0c3a0c" stroke-width="1.0" />
<circle cx="367.37" cy="2175.88" r="4.00" fill="#258C25" stroke="#0c3a0c" stroke-width="1.0" />
<circle cx="391.45" cy="2223.49" r="5.50" fill="#258C25" stroke="#0c3a0c" stroke-width="1.0" />
<circle cx="399.71" cy="2198.81" r="5.50" fill="#258C25" stroke="#0c3a0c" stroke-width="1.0" />
<circle cx="414.56" cy="2215.54" r="4.00" fill="#258C25" stroke="#0c3a0c" stroke-width="1.0" />
<circle cx="254.93" cy="2195.84" r="4.30" fill="#FF2A1C" stroke="#3a0404" stroke-width="1.0" />
<circle cx="243.43" cy="2175.88" r="4.50" fill="#FF2A1C" stroke="#3a0404" stroke-width="1.0" />
<circle cx="217.03" cy="2275.79" r="6.30" fill="#FF2A1C" stroke="#3a0404" stroke-width="1.0" />
<circle cx="196.03" cy="2267.17" r="7.00" fill="#FF2A1C" stroke="#3a0404" stroke-width="1.0" />
<circle cx="191.05" cy="2222.96" r="5.30" fill="#FF2A1C" stroke="#3a0404" stroke-width="1.0" />
<circle cx="180.51" cy="2242.42" r="6.00" fill="#FF2A1C" stroke="#3a0404" stroke-width="1.0" />
<circle cx="173.61" cy="2261.94" r="3.80" fill="#FF2A1C" stroke="#3a0404" stroke-width="1.0" />
<circle cx="169.53" cy="2284.42" r="3.80" fill="#FF2A1C" stroke="#3a0404" stroke-width="1.0" />
<circle cx="169.14" cy="2305.60" r="5.30" fill="#FF2A1C" stroke="#3a0404" stroke-width="1.0" />
<circle cx="249.63" cy="2369.40" r="4.00" fill="#C6D42E" stroke="#4a520c" stroke-width="1.0" />
<circle cx="199.02" cy="2337.06" r="3.80" fill="#FF2A1C" stroke="#3a0404" stroke-width="1.0" />
<circle cx="225.71" cy="2378.31" r="4.00" fill="#C6D42E" stroke="#4a520c" stroke-width="1.0" />
<circle cx="268.26" cy="2404.75" r="4.00" fill="#C6D42E" stroke="#4a520c" stroke-width="1.0" />
<circle cx="203.17" cy="2387.95" r="4.00" fill="#FF2A1C" stroke="#3a0404" stroke-width="1.0" />
<circle cx="219.13" cy="2403.28" r="4.00" fill="#FF2A1C" stroke="#3a0404" stroke-width="1.0" />
<circle cx="252.72" cy="2423.43" r="4.00" fill="#FF2A1C" stroke="#3a0404" stroke-width="1.0" />
<circle cx="374.12" cy="2291.25" r="5.30" fill="#C6D42E" stroke="#4a520c" stroke-width="1.0" />
<circle cx="396.07" cy="2289.73" r="5.30" fill="#C6D42E" stroke="#4a520c" stroke-width="1.0" />
<circle cx="418.53" cy="2288.40" r="5.50" fill="#FF2A1C" stroke="#3a0404" stroke-width="1.0" />
<circle cx="441.42" cy="2286.08" r="5.50" fill="#FF2A1C" stroke="#3a0404" stroke-width="1.0" />
<circle cx="346.05" cy="2317.94" r="6.80" fill="#258C25" stroke="#0c3a0c" stroke-width="1.0" />
<circle cx="367.04" cy="2328.50" r="6.80" fill="#258C25" stroke="#0c3a0c" stroke-width="1.0" />
<circle cx="386.70" cy="2338.39" r="6.80" fill="#258C25" stroke="#0c3a0c" stroke-width="1.0" />
<circle cx="406.80" cy="2348.50" r="6.80" fill="#258C25" stroke="#0c3a0c" stroke-width="1.0" />
<circle cx="427.35" cy="2358.83" r="6.80" fill="#258C25" stroke="#0c3a0c" stroke-width="1.0" />
<circle cx="344.88" cy="2354.09" r="5.00" fill="#FF2A1C" stroke="#3a0404" stroke-width="1.0" />
<circle cx="316.91" cy="2365.53" r="3.80" fill="#C6D42E" stroke="#4a520c" stroke-width="1.0" />
<circle cx="321.36" cy="2387.09" r="3.80" fill="#C6D42E" stroke="#4a520c" stroke-width="1.0" />
<circle cx="325.11" cy="2409.28" r="3.80" fill="#FF2A1C" stroke="#3a0404" stroke-width="1.0" />
<circle cx="358.11" cy="2371.68" r="3.80" fill="#C6D42E" stroke="#4a520c" stroke-width="1.0" />
<circle cx="370.50" cy="2390.47" r="4.20" fill="#C6D42E" stroke="#4a520c" stroke-width="1.0" />
<circle cx="383.69" cy="2409.31" r="4.50" fill="#FF2A1C" stroke="#3a0404" stroke-width="1.0" />
<circle cx="305.40" cy="2297.50" r="0.90" fill="#222" />
<text x="331.62" y="2142.50" font-size="9.5" fill="#1E5A1E" class="sa" text-anchor="middle" transform="rotate(9.60 331.62 2142.50)" dominant-baseline="central">e</text>
<text x="332.76" y="2154.09" font-size="9.5" fill="#1E5A1E" class="sa" text-anchor="middle" transform="rotate(10.80 332.76 2154.09)" dominant-baseline="central">d</text>
<text x="371.21" y="2170.54" font-size="9.5" fill="#1E5A1E" class="sa" text-anchor="middle" transform="rotate(27.40 371.21 2170.54)" dominant-baseline="central">c</text>
<text x="421.78" y="2208.84" font-size="9.5" fill="#1E5A1E" class="sa" text-anchor="middle" transform="rotate(52.70 421.78 2208.84)" dominant-baseline="central">b</text>
<text x="449.61" y="2285.64" font-size="9.5" fill="#6B1026" class="sa" text-anchor="middle" transform="rotate(85.30 449.61 2285.64)" dominant-baseline="central">a</text>
<text x="229.06" y="2161.46" font-size="9.5" fill="#6B1026" class="sa" text-anchor="middle" transform="rotate(-29.30 229.06 2161.46)" dominant-baseline="central">g</text>
<text x="234.24" y="2170.70" font-size="9.5" fill="#6B1026" class="sa" text-anchor="middle" transform="rotate(-29.30 234.24 2170.70)" dominant-baseline="central">f</text>
<text x="168.03" y="2252.34" font-size="9.5" fill="#6B1026" class="sa" text-anchor="middle" transform="rotate(-71.80 168.03 2252.34)" dominant-baseline="central">h</text>
<text x="154.09" y="2248.34" font-size="9.5" fill="#6B1026" class="sa" text-anchor="middle" transform="rotate(-72.00 154.09 2248.34)" dominant-baseline="central">i</text>
<text x="170.51" y="2353.37" font-size="9.5" fill="#6B1026" class="sa" text-anchor="middle" transform="rotate(-112.50 170.51 2353.37)" dominant-baseline="central">j</text>
<text x="330.58" y="2440.30" font-size="9.5" fill="#6B1026" class="sa" text-anchor="middle" transform="rotate(170.00 330.58 2440.30)" dominant-baseline="central">k</text>
<text x="405.86" y="2438.34" font-size="9.5" fill="#6B1026" class="sa" text-anchor="middle" transform="rotate(144.50 405.86 2438.34)" dominant-baseline="central">l</text>
<text x="433.81" y="2364.63" font-size="8" fill="#1E5A1E" class="sa" text-anchor="middle" transform="rotate(117.60 433.81 2364.63)" dominant-baseline="central">m</text>
<text x="450.06" y="2371.53" font-size="8" fill="#1E5A1E" class="sa" text-anchor="middle" transform="rotate(117.10 450.06 2371.53)" dominant-baseline="central">n</text>
<text x="461.16" y="2378.58" font-size="8" fill="#1E5A1E" class="sa" text-anchor="middle" transform="rotate(117.50 461.16 2378.58)" dominant-baseline="central">o</text>
<text x="153.81" y="2189.37" font-size="11.2" fill="#6B1026" class="sa" text-anchor="middle" transform="rotate(-54.50 153.81 2189.37)" dominant-baseline="central">p__Firmicutes</text>
<text x="472.97" y="2383.62" font-size="11" fill="#1E5A1E" class="sa" text-anchor="middle" transform="rotate(117.20 472.97 2383.62)" dominant-baseline="central">p__Verrucomicrobiota</text>
<rect x="522.60" y="2115.15" width="25.60" height="10.60" fill="#FF2A1C" stroke="#3a1010" stroke-width="1.2" />
<text x="555.71" y="2124.29" font-size="16.9" fill="#000" textLength="155.2" lengthAdjust="spacingAndGlyphs" stroke="#000" stroke-width="0.25">a:f__Marinifilaceae</text>
<rect x="522.60" y="2135.68" width="25.60" height="10.60" fill="#2E8B2E" stroke="#143c14" stroke-width="1.2" />
<text x="555.71" y="2146.39" font-size="16.9" fill="#F5161C" textLength="239.1" lengthAdjust="spacingAndGlyphs" stroke="#F5161C" stroke-width="0.25">b:f__Erysipelatoclostridiaceae</text>
<rect x="522.60" y="2157.33" width="25.60" height="10.60" fill="#2E8B2E" stroke="#143c14" stroke-width="1.2" />
<text x="555.71" y="2167.14" font-size="16.9" fill="#000" textLength="159.0" lengthAdjust="spacingAndGlyphs" stroke="#000" stroke-width="0.25">c:f__Aerococcaceae</text>
<rect x="522.60" y="2177.41" width="25.60" height="10.60" fill="#2E8B2E" stroke="#143c14" stroke-width="1.2" />
<text x="555.71" y="2188.12" font-size="16.9" fill="#000" textLength="173.7" lengthAdjust="spacingAndGlyphs" stroke="#000" stroke-width="0.25">d:f__Lactobacillaceae</text>
<rect x="522.60" y="2195.90" width="25.60" height="10.60" fill="#2E8B2E" stroke="#143c14" stroke-width="1.2" />
<text x="557.07" y="2206.17" font-size="16.9" fill="#000" textLength="162.2" lengthAdjust="spacingAndGlyphs" stroke="#000" stroke-width="0.25">e:o__Lactobacillales</text>
<rect x="522.60" y="2216.88" width="25.60" height="10.60" fill="#FF2A1C" stroke="#3a1010" stroke-width="1.2" />
<text x="558.20" y="2227.14" font-size="16.9" fill="#000" textLength="81.7" lengthAdjust="spacingAndGlyphs" stroke="#000" stroke-width="0.25">f:f__RF39</text>
<rect x="522.60" y="2238.08" width="25.60" height="10.60" fill="#FF2A1C" stroke="#3a1010" stroke-width="1.2" />
<text x="557.07" y="2246.09" font-size="16.9" fill="#000" textLength="88.4" lengthAdjust="spacingAndGlyphs" stroke="#000" stroke-width="0.25">g:o__RF39</text>
<rect x="522.60" y="2260.19" width="25.60" height="10.60" fill="#FF2A1C" stroke="#3a1010" stroke-width="1.2" />
<text x="557.07" y="2271.58" font-size="16.9" fill="#000" textLength="174.1" lengthAdjust="spacingAndGlyphs" stroke="#000" stroke-width="0.25">h:f__Lachnospiraceae</text>
<rect x="522.60" y="2281.39" width="25.60" height="10.60" fill="#FF2A1C" stroke="#3a1010" stroke-width="1.2" />
<text x="558.20" y="2294.81" font-size="16.9" fill="#000" textLength="159.5" lengthAdjust="spacingAndGlyphs" stroke="#000" stroke-width="0.25">i:o__Lachnospirales</text>
<rect x="522.60" y="2302.60" width="25.60" height="10.60" fill="#FF2A1C" stroke="#3a1010" stroke-width="1.2" />
<text x="557.07" y="2312.18" font-size="16.9" fill="#000" textLength="182.0" lengthAdjust="spacingAndGlyphs" stroke="#000" stroke-width="0.25">j:f__Butyricicoccaceae</text>
<rect x="522.60" y="2324.25" width="25.60" height="10.60" fill="#FF2A1C" stroke="#3a1010" stroke-width="1.2" />
<text x="556.39" y="2333.61" font-size="16.9" fill="#000" textLength="125.9" lengthAdjust="spacingAndGlyphs" stroke="#000" stroke-width="0.25">k:f__uncultured</text>
<rect x="522.60" y="2343.65" width="25.60" height="10.60" fill="#FF2A1C" stroke="#3a1010" stroke-width="1.2" />
<text x="557.07" y="2355.04" font-size="16.9" fill="#000" textLength="213.6" lengthAdjust="spacingAndGlyphs" stroke="#000" stroke-width="0.25">l:c__Gammaproteobacteria</text>
<rect x="522.60" y="2363.50" width="25.60" height="10.60" fill="#2E8B2E" stroke="#143c14" stroke-width="1.2" />
<text x="556.39" y="2373.08" font-size="16.9" fill="#000" textLength="187.2" lengthAdjust="spacingAndGlyphs" stroke="#000" stroke-width="0.25">m:f__Akkermansiaceae</text>
<rect x="522.60" y="2383.12" width="25.60" height="10.60" fill="#2E8B2E" stroke="#143c14" stroke-width="1.2" />
<text x="555.71" y="2392.71" font-size="16.9" fill="#000" textLength="200.8" lengthAdjust="spacingAndGlyphs" stroke="#000" stroke-width="0.25">n:o__Verrucomicrobiales</text>
<rect x="522.60" y="2402.30" width="25.60" height="10.60" fill="#2E8B2E" stroke="#143c14" stroke-width="1.2" />
<text x="555.71" y="2412.11" font-size="16.9" fill="#000" textLength="186.8" lengthAdjust="spacingAndGlyphs" stroke="#000" stroke-width="0.25">o:c__Verrucomicrobiae</text>
<rect x="59.30" y="2424.30" width="44.70" height="18.30" fill="#FF2A1C" />
<rect x="59.30" y="2459.80" width="44.70" height="17.80" fill="#2E8B2E" />
<text x="111.50" y="2442.60" font-size="28.5" fill="#000" textLength="116.0" lengthAdjust="spacingAndGlyphs">CDAHFD</text>
<text x="111.50" y="2477.60" font-size="28.5" fill="#000" textLength="182.0" lengthAdjust="spacingAndGlyphs">CDAHFD+NIC</text>
</g>
</svg>
</body></html>
